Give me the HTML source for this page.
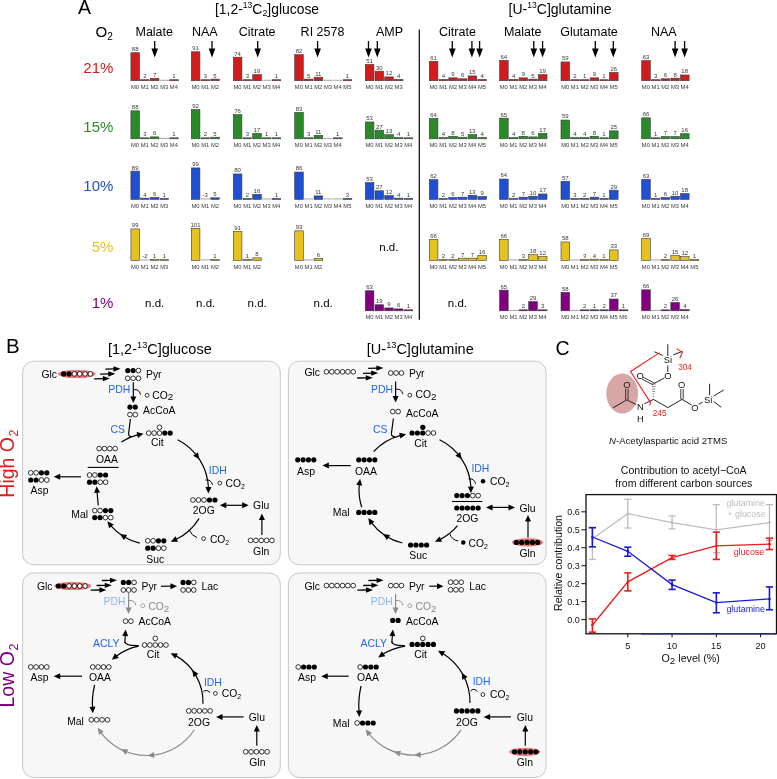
<!DOCTYPE html>
<html><head><meta charset="utf-8"><style>
html,body{margin:0;padding:0;background:#fff;}
svg{display:block;will-change:transform;}
text{font-family:"Liberation Sans",sans-serif;}
</style></head><body>
<svg width="777" height="779" viewBox="0 0 777 779" font-family="Liberation Sans, sans-serif">

<rect width="777" height="779" fill="#fff"/>
<text x="77.90" y="14.30" font-size="19.50" fill="#000" >A</text>
<text x="215" y="13.7" font-size="13.9" fill="#000">[1,2-<tspan dy="-5.6" font-size="8.6">13</tspan><tspan dy="5.6">C</tspan><tspan dy="2.4" font-size="8.8">2</tspan><tspan dy="-2.4">]glucose</tspan></text>
<text x="508.6" y="13.7" font-size="14" fill="#000">[U-<tspan dy="-5.6" font-size="8.6">13</tspan><tspan dy="5.6">C]glutamine</tspan></text>
<text x="95.5" y="37" font-size="15" fill="#000">O<tspan dy="3" font-size="10">2</tspan></text>
<text x="135.48" y="35.70" font-size="12.50" fill="#000" >Malate</text>
<text x="191.91" y="35.70" font-size="12.50" fill="#000" >NAA</text>
<text x="238.76" y="35.70" font-size="12.50" fill="#000" >Citrate</text>
<text x="300.62" y="35.70" font-size="12.50" fill="#000" >RI 2578</text>
<text x="376.03" y="35.70" font-size="12.50" fill="#000" >AMP</text>
<text x="439.06" y="35.70" font-size="12.50" fill="#000" >Citrate</text>
<text x="503.93" y="35.70" font-size="12.50" fill="#000" >Malate</text>
<text x="560.16" y="35.70" font-size="12.50" fill="#000" >Glutamate</text>
<text x="650.96" y="35.70" font-size="12.50" fill="#000" >NAA</text>
<text x="83.32" y="72.90" font-size="15.00" fill="#d01c1c" >21%</text>
<text x="83.32" y="131.80" font-size="15.00" fill="#2a8a2a" >15%</text>
<text x="83.32" y="190.90" font-size="15.00" fill="#1f50d2" >10%</text>
<text x="91.65" y="251.80" font-size="15.00" fill="#e6c21e" >5%</text>
<text x="91.65" y="307.70" font-size="15.00" fill="#800080" >1%</text>
<line x1="419.3" y1="29.5" x2="419.3" y2="319.8" stroke="#000" stroke-width="1.2"/>
<rect x="130.90" y="52.72" width="8.60" height="27.98" fill="#d01c1c" stroke="#3a3a3a" stroke-width="0.6"/>
<text x="131.85" y="51.12" font-size="6.00" fill="#383838" >88</text>
<text x="131.04" y="89.20" font-size="5.80" fill="#3a3a3a" >M0</text>
<rect x="140.60" y="79.70" width="8.60" height="1.00" fill="#d01c1c" stroke="#3a3a3a" stroke-width="0.6"/>
<text x="143.23" y="78.10" font-size="6.00" fill="#383838" >2</text>
<text x="140.77" y="89.20" font-size="5.80" fill="#3a3a3a" >M1</text>
<rect x="150.30" y="78.47" width="8.60" height="2.23" fill="#d01c1c" stroke="#3a3a3a" stroke-width="0.6"/>
<text x="152.94" y="76.87" font-size="6.00" fill="#383838" >7</text>
<text x="150.48" y="89.20" font-size="5.80" fill="#3a3a3a" >M2</text>
<rect x="159.70" y="79.80" width="9.20" height="0.9" fill="#9a9a9a"/>
<text x="160.15" y="89.20" font-size="5.80" fill="#3a3a3a" >M3</text>
<rect x="169.70" y="79.70" width="8.60" height="1.00" fill="#d01c1c" stroke="#3a3a3a" stroke-width="0.6"/>
<text x="172.24" y="78.10" font-size="6.00" fill="#383838" >1</text>
<text x="169.82" y="89.20" font-size="5.80" fill="#3a3a3a" >M4</text>
<rect x="130.90" y="110.82" width="8.60" height="27.98" fill="#2a8a2a" stroke="#3a3a3a" stroke-width="0.6"/>
<text x="131.85" y="109.22" font-size="6.00" fill="#383838" >88</text>
<text x="131.04" y="147.30" font-size="5.80" fill="#3a3a3a" >M0</text>
<rect x="140.60" y="137.80" width="8.60" height="1.00" fill="#2a8a2a" stroke="#3a3a3a" stroke-width="0.6"/>
<text x="143.23" y="136.20" font-size="6.00" fill="#383838" >3</text>
<text x="140.77" y="147.30" font-size="5.80" fill="#3a3a3a" >M1</text>
<rect x="150.30" y="136.89" width="8.60" height="1.91" fill="#2a8a2a" stroke="#3a3a3a" stroke-width="0.6"/>
<text x="152.91" y="135.29" font-size="6.00" fill="#383838" >6</text>
<text x="150.48" y="147.30" font-size="5.80" fill="#3a3a3a" >M2</text>
<rect x="159.70" y="137.90" width="9.20" height="0.9" fill="#9a9a9a"/>
<text x="160.15" y="147.30" font-size="5.80" fill="#3a3a3a" >M3</text>
<rect x="169.70" y="137.80" width="8.60" height="1.00" fill="#2a8a2a" stroke="#3a3a3a" stroke-width="0.6"/>
<text x="172.24" y="136.20" font-size="6.00" fill="#383838" >1</text>
<text x="169.82" y="147.30" font-size="5.80" fill="#3a3a3a" >M4</text>
<rect x="130.90" y="171.10" width="8.60" height="28.30" fill="#1f50d2" stroke="#3a3a3a" stroke-width="0.6"/>
<text x="131.87" y="169.50" font-size="6.00" fill="#383838" >89</text>
<text x="131.04" y="207.90" font-size="5.80" fill="#3a3a3a" >M0</text>
<rect x="140.60" y="198.13" width="8.60" height="1.27" fill="#1f50d2" stroke="#3a3a3a" stroke-width="0.6"/>
<text x="143.26" y="196.53" font-size="6.00" fill="#383838" >4</text>
<text x="140.77" y="207.90" font-size="5.80" fill="#3a3a3a" >M1</text>
<rect x="150.30" y="197.49" width="8.60" height="1.91" fill="#1f50d2" stroke="#3a3a3a" stroke-width="0.6"/>
<text x="152.91" y="195.89" font-size="6.00" fill="#383838" >6</text>
<text x="150.48" y="207.90" font-size="5.80" fill="#3a3a3a" >M2</text>
<rect x="160.00" y="198.40" width="8.60" height="1.00" fill="#1f50d2" stroke="#3a3a3a" stroke-width="0.6"/>
<text x="162.54" y="196.80" font-size="6.00" fill="#383838" >1</text>
<text x="160.15" y="207.90" font-size="5.80" fill="#3a3a3a" >M3</text>
<rect x="130.90" y="228.92" width="8.60" height="31.48" fill="#e6c21e" stroke="#3a3a3a" stroke-width="0.6"/>
<text x="131.87" y="227.32" font-size="6.00" fill="#383838" >99</text>
<text x="131.04" y="268.90" font-size="5.80" fill="#3a3a3a" >M0</text>
<rect x="140.30" y="259.50" width="9.20" height="0.9" fill="#9a9a9a"/>
<text x="142.24" y="257.80" font-size="6.00" fill="#383838" >-2</text>
<text x="140.77" y="268.90" font-size="5.80" fill="#3a3a3a" >M1</text>
<rect x="150.30" y="259.40" width="8.60" height="1.00" fill="#e6c21e" stroke="#3a3a3a" stroke-width="0.6"/>
<text x="152.84" y="257.80" font-size="6.00" fill="#383838" >1</text>
<text x="150.48" y="268.90" font-size="5.80" fill="#3a3a3a" >M2</text>
<rect x="160.00" y="259.40" width="8.60" height="1.00" fill="#e6c21e" stroke="#3a3a3a" stroke-width="0.6"/>
<text x="162.54" y="257.80" font-size="6.00" fill="#383838" >1</text>
<text x="160.15" y="268.90" font-size="5.80" fill="#3a3a3a" >M3</text>
<rect x="191.30" y="51.76" width="8.60" height="28.94" fill="#d01c1c" stroke="#3a3a3a" stroke-width="0.6"/>
<text x="192.27" y="50.16" font-size="6.00" fill="#383838" >91</text>
<text x="191.44" y="89.20" font-size="5.80" fill="#3a3a3a" >M0</text>
<rect x="201.00" y="79.70" width="8.60" height="1.00" fill="#d01c1c" stroke="#3a3a3a" stroke-width="0.6"/>
<text x="203.63" y="78.10" font-size="6.00" fill="#383838" >3</text>
<text x="201.17" y="89.20" font-size="5.80" fill="#3a3a3a" >M1</text>
<rect x="210.70" y="79.11" width="8.60" height="1.59" fill="#d01c1c" stroke="#3a3a3a" stroke-width="0.6"/>
<text x="213.34" y="77.51" font-size="6.00" fill="#383838" >5</text>
<text x="210.88" y="89.20" font-size="5.80" fill="#3a3a3a" >M2</text>
<rect x="191.30" y="109.54" width="8.60" height="29.26" fill="#2a8a2a" stroke="#3a3a3a" stroke-width="0.6"/>
<text x="192.28" y="107.94" font-size="6.00" fill="#383838" >92</text>
<text x="191.44" y="147.30" font-size="5.80" fill="#3a3a3a" >M0</text>
<rect x="201.00" y="137.80" width="8.60" height="1.00" fill="#2a8a2a" stroke="#3a3a3a" stroke-width="0.6"/>
<text x="203.63" y="136.20" font-size="6.00" fill="#383838" >2</text>
<text x="201.17" y="147.30" font-size="5.80" fill="#3a3a3a" >M1</text>
<rect x="210.70" y="137.21" width="8.60" height="1.59" fill="#2a8a2a" stroke="#3a3a3a" stroke-width="0.6"/>
<text x="213.34" y="135.61" font-size="6.00" fill="#383838" >5</text>
<text x="210.88" y="147.30" font-size="5.80" fill="#3a3a3a" >M2</text>
<rect x="191.30" y="167.92" width="8.60" height="31.48" fill="#1f50d2" stroke="#3a3a3a" stroke-width="0.6"/>
<text x="192.27" y="166.32" font-size="6.00" fill="#383838" >99</text>
<text x="191.44" y="207.90" font-size="5.80" fill="#3a3a3a" >M0</text>
<rect x="200.70" y="198.50" width="9.20" height="0.9" fill="#9a9a9a"/>
<text x="202.61" y="196.80" font-size="6.00" fill="#383838" >-3</text>
<text x="201.17" y="207.90" font-size="5.80" fill="#3a3a3a" >M1</text>
<rect x="210.70" y="197.81" width="8.60" height="1.59" fill="#1f50d2" stroke="#3a3a3a" stroke-width="0.6"/>
<text x="213.34" y="196.21" font-size="6.00" fill="#383838" >5</text>
<text x="210.88" y="207.90" font-size="5.80" fill="#3a3a3a" >M2</text>
<rect x="191.30" y="228.28" width="8.60" height="32.12" fill="#e6c21e" stroke="#3a3a3a" stroke-width="0.6"/>
<text x="190.51" y="226.68" font-size="6.00" fill="#383838" >101</text>
<text x="191.44" y="268.90" font-size="5.80" fill="#3a3a3a" >M0</text>
<rect x="200.70" y="259.50" width="9.20" height="0.9" fill="#9a9a9a"/>
<text x="201.17" y="268.90" font-size="5.80" fill="#3a3a3a" >M1</text>
<rect x="210.70" y="259.40" width="8.60" height="1.00" fill="#e6c21e" stroke="#3a3a3a" stroke-width="0.6"/>
<text x="213.25" y="257.80" font-size="6.00" fill="#383838" >1</text>
<text x="210.88" y="268.90" font-size="5.80" fill="#3a3a3a" >M2</text>
<rect x="233.30" y="57.17" width="8.60" height="23.53" fill="#d01c1c" stroke="#3a3a3a" stroke-width="0.6"/>
<text x="234.21" y="55.57" font-size="6.00" fill="#383838" >74</text>
<text x="233.44" y="89.20" font-size="5.80" fill="#3a3a3a" >M0</text>
<rect x="243.00" y="79.70" width="8.60" height="1.00" fill="#d01c1c" stroke="#3a3a3a" stroke-width="0.6"/>
<text x="245.63" y="78.10" font-size="6.00" fill="#383838" >3</text>
<text x="243.17" y="89.20" font-size="5.80" fill="#3a3a3a" >M1</text>
<rect x="252.70" y="74.66" width="8.60" height="6.04" fill="#d01c1c" stroke="#3a3a3a" stroke-width="0.6"/>
<text x="253.58" y="73.06" font-size="6.00" fill="#383838" >19</text>
<text x="252.88" y="89.20" font-size="5.80" fill="#3a3a3a" >M2</text>
<rect x="262.10" y="79.80" width="9.20" height="0.9" fill="#9a9a9a"/>
<text x="262.55" y="89.20" font-size="5.80" fill="#3a3a3a" >M3</text>
<rect x="272.10" y="79.70" width="8.60" height="1.00" fill="#d01c1c" stroke="#3a3a3a" stroke-width="0.6"/>
<text x="274.65" y="78.10" font-size="6.00" fill="#383838" >1</text>
<text x="272.22" y="89.20" font-size="5.80" fill="#3a3a3a" >M4</text>
<rect x="233.30" y="114.63" width="8.60" height="24.17" fill="#2a8a2a" stroke="#3a3a3a" stroke-width="0.6"/>
<text x="234.24" y="113.03" font-size="6.00" fill="#383838" >76</text>
<text x="233.44" y="147.30" font-size="5.80" fill="#3a3a3a" >M0</text>
<rect x="243.00" y="137.80" width="8.60" height="1.00" fill="#2a8a2a" stroke="#3a3a3a" stroke-width="0.6"/>
<text x="245.63" y="136.20" font-size="6.00" fill="#383838" >3</text>
<text x="243.17" y="147.30" font-size="5.80" fill="#3a3a3a" >M1</text>
<rect x="252.70" y="133.39" width="8.60" height="5.41" fill="#2a8a2a" stroke="#3a3a3a" stroke-width="0.6"/>
<text x="253.59" y="131.79" font-size="6.00" fill="#383838" >17</text>
<text x="252.88" y="147.30" font-size="5.80" fill="#3a3a3a" >M2</text>
<rect x="262.40" y="137.80" width="8.60" height="1.00" fill="#2a8a2a" stroke="#3a3a3a" stroke-width="0.6"/>
<text x="264.95" y="136.20" font-size="6.00" fill="#383838" >1</text>
<text x="262.55" y="147.30" font-size="5.80" fill="#3a3a3a" >M3</text>
<rect x="272.10" y="137.80" width="8.60" height="1.00" fill="#2a8a2a" stroke="#3a3a3a" stroke-width="0.6"/>
<text x="274.65" y="136.20" font-size="6.00" fill="#383838" >1</text>
<text x="272.22" y="147.30" font-size="5.80" fill="#3a3a3a" >M4</text>
<rect x="233.30" y="173.96" width="8.60" height="25.44" fill="#1f50d2" stroke="#3a3a3a" stroke-width="0.6"/>
<text x="234.24" y="172.36" font-size="6.00" fill="#383838" >80</text>
<text x="233.44" y="207.90" font-size="5.80" fill="#3a3a3a" >M0</text>
<rect x="243.00" y="198.40" width="8.60" height="1.00" fill="#1f50d2" stroke="#3a3a3a" stroke-width="0.6"/>
<text x="245.63" y="196.80" font-size="6.00" fill="#383838" >2</text>
<text x="243.17" y="207.90" font-size="5.80" fill="#3a3a3a" >M1</text>
<rect x="252.70" y="194.31" width="8.60" height="5.09" fill="#1f50d2" stroke="#3a3a3a" stroke-width="0.6"/>
<text x="253.56" y="192.71" font-size="6.00" fill="#383838" >16</text>
<text x="252.88" y="207.90" font-size="5.80" fill="#3a3a3a" >M2</text>
<rect x="262.10" y="198.50" width="9.20" height="0.9" fill="#9a9a9a"/>
<text x="262.55" y="207.90" font-size="5.80" fill="#3a3a3a" >M3</text>
<rect x="272.10" y="198.40" width="8.60" height="1.00" fill="#1f50d2" stroke="#3a3a3a" stroke-width="0.6"/>
<text x="274.65" y="196.80" font-size="6.00" fill="#383838" >1</text>
<text x="272.22" y="207.90" font-size="5.80" fill="#3a3a3a" >M4</text>
<rect x="233.30" y="231.46" width="8.60" height="28.94" fill="#e6c21e" stroke="#3a3a3a" stroke-width="0.6"/>
<text x="234.27" y="229.86" font-size="6.00" fill="#383838" >91</text>
<text x="233.44" y="268.90" font-size="5.80" fill="#3a3a3a" >M0</text>
<rect x="243.00" y="259.40" width="8.60" height="1.00" fill="#e6c21e" stroke="#3a3a3a" stroke-width="0.6"/>
<text x="245.54" y="257.80" font-size="6.00" fill="#383838" >1</text>
<text x="243.17" y="268.90" font-size="5.80" fill="#3a3a3a" >M1</text>
<rect x="252.70" y="257.86" width="8.60" height="2.54" fill="#e6c21e" stroke="#3a3a3a" stroke-width="0.6"/>
<text x="255.32" y="256.26" font-size="6.00" fill="#383838" >8</text>
<text x="252.88" y="268.90" font-size="5.80" fill="#3a3a3a" >M2</text>
<rect x="294.70" y="54.62" width="8.60" height="26.08" fill="#d01c1c" stroke="#3a3a3a" stroke-width="0.6"/>
<text x="295.69" y="53.02" font-size="6.00" fill="#383838" >82</text>
<text x="294.84" y="89.20" font-size="5.80" fill="#3a3a3a" >M0</text>
<rect x="304.40" y="79.11" width="8.60" height="1.59" fill="#d01c1c" stroke="#3a3a3a" stroke-width="0.6"/>
<text x="307.03" y="77.51" font-size="6.00" fill="#383838" >5</text>
<text x="304.57" y="89.20" font-size="5.80" fill="#3a3a3a" >M1</text>
<rect x="314.10" y="77.20" width="8.60" height="3.50" fill="#d01c1c" stroke="#3a3a3a" stroke-width="0.6"/>
<text x="315.20" y="75.60" font-size="6.00" fill="#383838" >11</text>
<text x="314.28" y="89.20" font-size="5.80" fill="#3a3a3a" >M2</text>
<rect x="323.50" y="79.80" width="9.20" height="0.9" fill="#9a9a9a"/>
<text x="323.95" y="89.20" font-size="5.80" fill="#3a3a3a" >M3</text>
<rect x="333.20" y="79.80" width="9.20" height="0.9" fill="#9a9a9a"/>
<text x="333.62" y="89.20" font-size="5.80" fill="#3a3a3a" >M4</text>
<rect x="343.20" y="79.70" width="8.60" height="1.00" fill="#d01c1c" stroke="#3a3a3a" stroke-width="0.6"/>
<text x="345.75" y="78.10" font-size="6.00" fill="#383838" >1</text>
<text x="343.35" y="89.20" font-size="5.80" fill="#3a3a3a" >M5</text>
<rect x="294.70" y="112.41" width="8.60" height="26.39" fill="#2a8a2a" stroke="#3a3a3a" stroke-width="0.6"/>
<text x="295.65" y="110.81" font-size="6.00" fill="#383838" >83</text>
<text x="294.84" y="147.30" font-size="5.80" fill="#3a3a3a" >M0</text>
<rect x="304.40" y="137.80" width="8.60" height="1.00" fill="#2a8a2a" stroke="#3a3a3a" stroke-width="0.6"/>
<text x="307.03" y="136.20" font-size="6.00" fill="#383838" >3</text>
<text x="304.57" y="147.30" font-size="5.80" fill="#3a3a3a" >M1</text>
<rect x="314.10" y="135.30" width="8.60" height="3.50" fill="#2a8a2a" stroke="#3a3a3a" stroke-width="0.6"/>
<text x="315.20" y="133.70" font-size="6.00" fill="#383838" >11</text>
<text x="314.28" y="147.30" font-size="5.80" fill="#3a3a3a" >M2</text>
<rect x="323.50" y="137.90" width="9.20" height="0.9" fill="#9a9a9a"/>
<text x="323.95" y="147.30" font-size="5.80" fill="#3a3a3a" >M3</text>
<rect x="333.50" y="137.80" width="8.60" height="1.00" fill="#2a8a2a" stroke="#3a3a3a" stroke-width="0.6"/>
<text x="336.05" y="136.20" font-size="6.00" fill="#383838" >1</text>
<text x="333.62" y="147.30" font-size="5.80" fill="#3a3a3a" >M4</text>
<rect x="294.70" y="172.05" width="8.60" height="27.35" fill="#1f50d2" stroke="#3a3a3a" stroke-width="0.6"/>
<text x="295.65" y="170.45" font-size="6.00" fill="#383838" >86</text>
<text x="294.84" y="207.90" font-size="5.80" fill="#3a3a3a" >M0</text>
<rect x="304.10" y="198.50" width="9.20" height="0.9" fill="#9a9a9a"/>
<text x="304.57" y="207.90" font-size="5.80" fill="#3a3a3a" >M1</text>
<rect x="314.10" y="195.90" width="8.60" height="3.50" fill="#1f50d2" stroke="#3a3a3a" stroke-width="0.6"/>
<text x="315.20" y="194.30" font-size="6.00" fill="#383838" >11</text>
<text x="314.28" y="207.90" font-size="5.80" fill="#3a3a3a" >M2</text>
<rect x="323.50" y="198.50" width="9.20" height="0.9" fill="#9a9a9a"/>
<text x="323.95" y="207.90" font-size="5.80" fill="#3a3a3a" >M3</text>
<rect x="333.20" y="198.50" width="9.20" height="0.9" fill="#9a9a9a"/>
<text x="333.62" y="207.90" font-size="5.80" fill="#3a3a3a" >M4</text>
<rect x="343.20" y="198.40" width="8.60" height="1.00" fill="#1f50d2" stroke="#3a3a3a" stroke-width="0.6"/>
<text x="345.83" y="196.80" font-size="6.00" fill="#383838" >3</text>
<text x="343.35" y="207.90" font-size="5.80" fill="#3a3a3a" >M5</text>
<rect x="294.70" y="230.83" width="8.60" height="29.57" fill="#e6c21e" stroke="#3a3a3a" stroke-width="0.6"/>
<text x="295.65" y="229.23" font-size="6.00" fill="#383838" >93</text>
<text x="294.84" y="268.90" font-size="5.80" fill="#3a3a3a" >M0</text>
<rect x="304.10" y="259.50" width="9.20" height="0.9" fill="#9a9a9a"/>
<text x="304.57" y="268.90" font-size="5.80" fill="#3a3a3a" >M1</text>
<rect x="314.10" y="258.49" width="8.60" height="1.91" fill="#e6c21e" stroke="#3a3a3a" stroke-width="0.6"/>
<text x="316.70" y="256.89" font-size="6.00" fill="#383838" >6</text>
<text x="314.28" y="268.90" font-size="5.80" fill="#3a3a3a" >M2</text>
<rect x="365.30" y="64.48" width="8.60" height="16.22" fill="#d01c1c" stroke="#3a3a3a" stroke-width="0.6"/>
<text x="366.29" y="62.88" font-size="6.00" fill="#383838" >51</text>
<text x="365.44" y="89.20" font-size="5.80" fill="#3a3a3a" >M0</text>
<rect x="375.00" y="71.16" width="8.60" height="9.54" fill="#d01c1c" stroke="#3a3a3a" stroke-width="0.6"/>
<text x="375.95" y="69.56" font-size="6.00" fill="#383838" >30</text>
<text x="375.17" y="89.20" font-size="5.80" fill="#3a3a3a" >M1</text>
<rect x="384.70" y="76.88" width="8.60" height="3.82" fill="#d01c1c" stroke="#3a3a3a" stroke-width="0.6"/>
<text x="385.60" y="75.28" font-size="6.00" fill="#383838" >12</text>
<text x="384.88" y="89.20" font-size="5.80" fill="#3a3a3a" >M2</text>
<rect x="394.40" y="79.43" width="8.60" height="1.27" fill="#d01c1c" stroke="#3a3a3a" stroke-width="0.6"/>
<text x="397.07" y="77.83" font-size="6.00" fill="#383838" >4</text>
<text x="394.55" y="89.20" font-size="5.80" fill="#3a3a3a" >M3</text>
<rect x="365.30" y="121.95" width="8.60" height="16.85" fill="#2a8a2a" stroke="#3a3a3a" stroke-width="0.6"/>
<text x="366.27" y="120.35" font-size="6.00" fill="#383838" >53</text>
<text x="365.44" y="147.30" font-size="5.80" fill="#3a3a3a" >M0</text>
<rect x="375.00" y="130.21" width="8.60" height="8.59" fill="#2a8a2a" stroke="#3a3a3a" stroke-width="0.6"/>
<text x="375.97" y="128.61" font-size="6.00" fill="#383838" >27</text>
<text x="375.17" y="147.30" font-size="5.80" fill="#3a3a3a" >M1</text>
<rect x="384.70" y="134.67" width="8.60" height="4.13" fill="#2a8a2a" stroke="#3a3a3a" stroke-width="0.6"/>
<text x="385.56" y="133.07" font-size="6.00" fill="#383838" >13</text>
<text x="384.88" y="147.30" font-size="5.80" fill="#3a3a3a" >M2</text>
<rect x="394.40" y="137.53" width="8.60" height="1.27" fill="#2a8a2a" stroke="#3a3a3a" stroke-width="0.6"/>
<text x="397.07" y="135.93" font-size="6.00" fill="#383838" >4</text>
<text x="394.55" y="147.30" font-size="5.80" fill="#3a3a3a" >M3</text>
<rect x="404.10" y="137.80" width="8.60" height="1.00" fill="#2a8a2a" stroke="#3a3a3a" stroke-width="0.6"/>
<text x="406.65" y="136.20" font-size="6.00" fill="#383838" >1</text>
<text x="404.22" y="147.30" font-size="5.80" fill="#3a3a3a" >M4</text>
<rect x="365.30" y="182.55" width="8.60" height="16.85" fill="#1f50d2" stroke="#3a3a3a" stroke-width="0.6"/>
<text x="366.27" y="180.95" font-size="6.00" fill="#383838" >53</text>
<text x="365.44" y="207.90" font-size="5.80" fill="#3a3a3a" >M0</text>
<rect x="375.00" y="190.81" width="8.60" height="8.59" fill="#1f50d2" stroke="#3a3a3a" stroke-width="0.6"/>
<text x="375.97" y="189.21" font-size="6.00" fill="#383838" >27</text>
<text x="375.17" y="207.90" font-size="5.80" fill="#3a3a3a" >M1</text>
<rect x="384.70" y="195.58" width="8.60" height="3.82" fill="#1f50d2" stroke="#3a3a3a" stroke-width="0.6"/>
<text x="385.60" y="193.98" font-size="6.00" fill="#383838" >12</text>
<text x="384.88" y="207.90" font-size="5.80" fill="#3a3a3a" >M2</text>
<rect x="394.40" y="198.13" width="8.60" height="1.27" fill="#1f50d2" stroke="#3a3a3a" stroke-width="0.6"/>
<text x="397.07" y="196.53" font-size="6.00" fill="#383838" >4</text>
<text x="394.55" y="207.90" font-size="5.80" fill="#3a3a3a" >M3</text>
<rect x="404.10" y="198.40" width="8.60" height="1.00" fill="#1f50d2" stroke="#3a3a3a" stroke-width="0.6"/>
<text x="406.65" y="196.80" font-size="6.00" fill="#383838" >1</text>
<text x="404.22" y="207.90" font-size="5.80" fill="#3a3a3a" >M4</text>
<rect x="365.30" y="290.77" width="8.60" height="20.03" fill="#800080" stroke="#3a3a3a" stroke-width="0.6"/>
<text x="366.24" y="289.17" font-size="6.00" fill="#383838" >63</text>
<text x="365.44" y="319.30" font-size="5.80" fill="#3a3a3a" >M0</text>
<rect x="375.00" y="304.76" width="8.60" height="6.04" fill="#800080" stroke="#3a3a3a" stroke-width="0.6"/>
<text x="375.88" y="303.16" font-size="6.00" fill="#383838" >19</text>
<text x="375.17" y="319.30" font-size="5.80" fill="#3a3a3a" >M1</text>
<rect x="384.70" y="307.94" width="8.60" height="2.86" fill="#800080" stroke="#3a3a3a" stroke-width="0.6"/>
<text x="387.33" y="306.34" font-size="6.00" fill="#383838" >9</text>
<text x="384.88" y="319.30" font-size="5.80" fill="#3a3a3a" >M2</text>
<rect x="394.40" y="308.89" width="8.60" height="1.91" fill="#800080" stroke="#3a3a3a" stroke-width="0.6"/>
<text x="397.01" y="307.29" font-size="6.00" fill="#383838" >6</text>
<text x="394.55" y="319.30" font-size="5.80" fill="#3a3a3a" >M3</text>
<rect x="404.10" y="309.80" width="8.60" height="1.00" fill="#800080" stroke="#3a3a3a" stroke-width="0.6"/>
<text x="406.65" y="308.20" font-size="6.00" fill="#383838" >1</text>
<text x="404.22" y="319.30" font-size="5.80" fill="#3a3a3a" >M4</text>
<rect x="429.30" y="61.30" width="8.60" height="19.40" fill="#d01c1c" stroke="#3a3a3a" stroke-width="0.6"/>
<text x="430.25" y="59.70" font-size="6.00" fill="#383838" >61</text>
<text x="429.44" y="89.20" font-size="5.80" fill="#3a3a3a" >M0</text>
<rect x="439.00" y="79.43" width="8.60" height="1.27" fill="#d01c1c" stroke="#3a3a3a" stroke-width="0.6"/>
<text x="441.67" y="77.83" font-size="6.00" fill="#383838" >4</text>
<text x="439.17" y="89.20" font-size="5.80" fill="#3a3a3a" >M1</text>
<rect x="448.70" y="77.84" width="8.60" height="2.86" fill="#d01c1c" stroke="#3a3a3a" stroke-width="0.6"/>
<text x="451.33" y="76.24" font-size="6.00" fill="#383838" >9</text>
<text x="448.88" y="89.20" font-size="5.80" fill="#3a3a3a" >M2</text>
<rect x="458.40" y="78.79" width="8.60" height="1.91" fill="#d01c1c" stroke="#3a3a3a" stroke-width="0.6"/>
<text x="461.01" y="77.19" font-size="6.00" fill="#383838" >6</text>
<text x="458.55" y="89.20" font-size="5.80" fill="#3a3a3a" >M3</text>
<rect x="468.10" y="75.93" width="8.60" height="4.77" fill="#d01c1c" stroke="#3a3a3a" stroke-width="0.6"/>
<text x="468.97" y="74.33" font-size="6.00" fill="#383838" >15</text>
<text x="468.22" y="89.20" font-size="5.80" fill="#3a3a3a" >M4</text>
<rect x="477.80" y="79.43" width="8.60" height="1.27" fill="#d01c1c" stroke="#3a3a3a" stroke-width="0.6"/>
<text x="480.47" y="77.83" font-size="6.00" fill="#383838" >4</text>
<text x="477.95" y="89.20" font-size="5.80" fill="#3a3a3a" >M5</text>
<rect x="429.30" y="118.45" width="8.60" height="20.35" fill="#2a8a2a" stroke="#3a3a3a" stroke-width="0.6"/>
<text x="430.21" y="116.85" font-size="6.00" fill="#383838" >64</text>
<text x="429.44" y="147.30" font-size="5.80" fill="#3a3a3a" >M0</text>
<rect x="439.00" y="137.53" width="8.60" height="1.27" fill="#2a8a2a" stroke="#3a3a3a" stroke-width="0.6"/>
<text x="441.67" y="135.93" font-size="6.00" fill="#383838" >4</text>
<text x="439.17" y="147.30" font-size="5.80" fill="#3a3a3a" >M1</text>
<rect x="448.70" y="136.26" width="8.60" height="2.54" fill="#2a8a2a" stroke="#3a3a3a" stroke-width="0.6"/>
<text x="451.32" y="134.66" font-size="6.00" fill="#383838" >8</text>
<text x="448.88" y="147.30" font-size="5.80" fill="#3a3a3a" >M2</text>
<rect x="458.40" y="137.21" width="8.60" height="1.59" fill="#2a8a2a" stroke="#3a3a3a" stroke-width="0.6"/>
<text x="461.04" y="135.61" font-size="6.00" fill="#383838" >5</text>
<text x="458.55" y="147.30" font-size="5.80" fill="#3a3a3a" >M3</text>
<rect x="468.10" y="134.67" width="8.60" height="4.13" fill="#2a8a2a" stroke="#3a3a3a" stroke-width="0.6"/>
<text x="468.97" y="133.07" font-size="6.00" fill="#383838" >13</text>
<text x="468.22" y="147.30" font-size="5.80" fill="#3a3a3a" >M4</text>
<rect x="477.80" y="137.53" width="8.60" height="1.27" fill="#2a8a2a" stroke="#3a3a3a" stroke-width="0.6"/>
<text x="480.47" y="135.93" font-size="6.00" fill="#383838" >4</text>
<text x="477.95" y="147.30" font-size="5.80" fill="#3a3a3a" >M5</text>
<rect x="429.30" y="179.68" width="8.60" height="19.72" fill="#1f50d2" stroke="#3a3a3a" stroke-width="0.6"/>
<text x="430.27" y="178.08" font-size="6.00" fill="#383838" >62</text>
<text x="429.44" y="207.90" font-size="5.80" fill="#3a3a3a" >M0</text>
<rect x="439.00" y="198.40" width="8.60" height="1.00" fill="#1f50d2" stroke="#3a3a3a" stroke-width="0.6"/>
<text x="441.63" y="196.80" font-size="6.00" fill="#383838" >2</text>
<text x="439.17" y="207.90" font-size="5.80" fill="#3a3a3a" >M1</text>
<rect x="448.70" y="197.49" width="8.60" height="1.91" fill="#1f50d2" stroke="#3a3a3a" stroke-width="0.6"/>
<text x="451.31" y="195.89" font-size="6.00" fill="#383838" >6</text>
<text x="448.88" y="207.90" font-size="5.80" fill="#3a3a3a" >M2</text>
<rect x="458.40" y="197.17" width="8.60" height="2.23" fill="#1f50d2" stroke="#3a3a3a" stroke-width="0.6"/>
<text x="461.04" y="195.57" font-size="6.00" fill="#383838" >7</text>
<text x="458.55" y="207.90" font-size="5.80" fill="#3a3a3a" >M3</text>
<rect x="468.10" y="195.27" width="8.60" height="4.13" fill="#1f50d2" stroke="#3a3a3a" stroke-width="0.6"/>
<text x="468.97" y="193.67" font-size="6.00" fill="#383838" >13</text>
<text x="468.22" y="207.90" font-size="5.80" fill="#3a3a3a" >M4</text>
<rect x="477.80" y="196.54" width="8.60" height="2.86" fill="#1f50d2" stroke="#3a3a3a" stroke-width="0.6"/>
<text x="480.44" y="194.94" font-size="6.00" fill="#383838" >9</text>
<text x="477.95" y="207.90" font-size="5.80" fill="#3a3a3a" >M5</text>
<rect x="429.30" y="239.41" width="8.60" height="20.99" fill="#e6c21e" stroke="#3a3a3a" stroke-width="0.6"/>
<text x="430.24" y="237.81" font-size="6.00" fill="#383838" >66</text>
<text x="429.44" y="268.90" font-size="5.80" fill="#3a3a3a" >M0</text>
<rect x="439.00" y="259.40" width="8.60" height="1.00" fill="#e6c21e" stroke="#3a3a3a" stroke-width="0.6"/>
<text x="441.63" y="257.80" font-size="6.00" fill="#383838" >2</text>
<text x="439.17" y="268.90" font-size="5.80" fill="#3a3a3a" >M1</text>
<rect x="448.70" y="259.40" width="8.60" height="1.00" fill="#e6c21e" stroke="#3a3a3a" stroke-width="0.6"/>
<text x="451.33" y="257.80" font-size="6.00" fill="#383838" >2</text>
<text x="448.88" y="268.90" font-size="5.80" fill="#3a3a3a" >M2</text>
<rect x="458.40" y="258.17" width="8.60" height="2.23" fill="#e6c21e" stroke="#3a3a3a" stroke-width="0.6"/>
<text x="461.04" y="256.57" font-size="6.00" fill="#383838" >7</text>
<text x="458.55" y="268.90" font-size="5.80" fill="#3a3a3a" >M3</text>
<rect x="468.10" y="258.17" width="8.60" height="2.23" fill="#e6c21e" stroke="#3a3a3a" stroke-width="0.6"/>
<text x="470.74" y="256.57" font-size="6.00" fill="#383838" >7</text>
<text x="468.22" y="268.90" font-size="5.80" fill="#3a3a3a" >M4</text>
<rect x="477.80" y="255.31" width="8.60" height="5.09" fill="#e6c21e" stroke="#3a3a3a" stroke-width="0.6"/>
<text x="478.67" y="253.71" font-size="6.00" fill="#383838" >16</text>
<text x="477.95" y="268.90" font-size="5.80" fill="#3a3a3a" >M5</text>
<rect x="499.60" y="60.35" width="8.60" height="20.35" fill="#d01c1c" stroke="#3a3a3a" stroke-width="0.6"/>
<text x="500.51" y="58.75" font-size="6.00" fill="#383838" >64</text>
<text x="499.74" y="89.20" font-size="5.80" fill="#3a3a3a" >M0</text>
<rect x="509.30" y="79.43" width="8.60" height="1.27" fill="#d01c1c" stroke="#3a3a3a" stroke-width="0.6"/>
<text x="511.97" y="77.83" font-size="6.00" fill="#383838" >4</text>
<text x="509.47" y="89.20" font-size="5.80" fill="#3a3a3a" >M1</text>
<rect x="519.00" y="77.84" width="8.60" height="2.86" fill="#d01c1c" stroke="#3a3a3a" stroke-width="0.6"/>
<text x="521.64" y="76.24" font-size="6.00" fill="#383838" >9</text>
<text x="519.18" y="89.20" font-size="5.80" fill="#3a3a3a" >M2</text>
<rect x="528.70" y="79.11" width="8.60" height="1.59" fill="#d01c1c" stroke="#3a3a3a" stroke-width="0.6"/>
<text x="531.34" y="77.51" font-size="6.00" fill="#383838" >5</text>
<text x="528.85" y="89.20" font-size="5.80" fill="#3a3a3a" >M3</text>
<rect x="538.40" y="74.66" width="8.60" height="6.04" fill="#d01c1c" stroke="#3a3a3a" stroke-width="0.6"/>
<text x="539.28" y="73.06" font-size="6.00" fill="#383838" >19</text>
<text x="538.52" y="89.20" font-size="5.80" fill="#3a3a3a" >M4</text>
<rect x="499.60" y="118.13" width="8.60" height="20.67" fill="#2a8a2a" stroke="#3a3a3a" stroke-width="0.6"/>
<text x="500.54" y="116.53" font-size="6.00" fill="#383838" >65</text>
<text x="499.74" y="147.30" font-size="5.80" fill="#3a3a3a" >M0</text>
<rect x="509.30" y="137.53" width="8.60" height="1.27" fill="#2a8a2a" stroke="#3a3a3a" stroke-width="0.6"/>
<text x="511.97" y="135.93" font-size="6.00" fill="#383838" >4</text>
<text x="509.47" y="147.30" font-size="5.80" fill="#3a3a3a" >M1</text>
<rect x="519.00" y="136.26" width="8.60" height="2.54" fill="#2a8a2a" stroke="#3a3a3a" stroke-width="0.6"/>
<text x="521.62" y="134.66" font-size="6.00" fill="#383838" >8</text>
<text x="519.18" y="147.30" font-size="5.80" fill="#3a3a3a" >M2</text>
<rect x="528.70" y="136.89" width="8.60" height="1.91" fill="#2a8a2a" stroke="#3a3a3a" stroke-width="0.6"/>
<text x="531.30" y="135.29" font-size="6.00" fill="#383838" >6</text>
<text x="528.85" y="147.30" font-size="5.80" fill="#3a3a3a" >M3</text>
<rect x="538.40" y="133.39" width="8.60" height="5.41" fill="#2a8a2a" stroke="#3a3a3a" stroke-width="0.6"/>
<text x="539.30" y="131.79" font-size="6.00" fill="#383838" >17</text>
<text x="538.52" y="147.30" font-size="5.80" fill="#3a3a3a" >M4</text>
<rect x="499.60" y="179.05" width="8.60" height="20.35" fill="#1f50d2" stroke="#3a3a3a" stroke-width="0.6"/>
<text x="500.51" y="177.45" font-size="6.00" fill="#383838" >64</text>
<text x="499.74" y="207.90" font-size="5.80" fill="#3a3a3a" >M0</text>
<rect x="509.30" y="198.40" width="8.60" height="1.00" fill="#1f50d2" stroke="#3a3a3a" stroke-width="0.6"/>
<text x="511.94" y="196.80" font-size="6.00" fill="#383838" >2</text>
<text x="509.47" y="207.90" font-size="5.80" fill="#3a3a3a" >M1</text>
<rect x="519.00" y="197.17" width="8.60" height="2.23" fill="#1f50d2" stroke="#3a3a3a" stroke-width="0.6"/>
<text x="521.64" y="195.57" font-size="6.00" fill="#383838" >7</text>
<text x="519.18" y="207.90" font-size="5.80" fill="#3a3a3a" >M2</text>
<rect x="528.70" y="196.22" width="8.60" height="3.18" fill="#1f50d2" stroke="#3a3a3a" stroke-width="0.6"/>
<text x="529.55" y="194.62" font-size="6.00" fill="#383838" >10</text>
<text x="528.85" y="207.90" font-size="5.80" fill="#3a3a3a" >M3</text>
<rect x="538.40" y="193.99" width="8.60" height="5.41" fill="#1f50d2" stroke="#3a3a3a" stroke-width="0.6"/>
<text x="539.30" y="192.39" font-size="6.00" fill="#383838" >17</text>
<text x="538.52" y="207.90" font-size="5.80" fill="#3a3a3a" >M4</text>
<rect x="499.60" y="239.41" width="8.60" height="20.99" fill="#e6c21e" stroke="#3a3a3a" stroke-width="0.6"/>
<text x="500.54" y="237.81" font-size="6.00" fill="#383838" >66</text>
<text x="499.74" y="268.90" font-size="5.80" fill="#3a3a3a" >M0</text>
<rect x="509.00" y="259.50" width="9.20" height="0.9" fill="#9a9a9a"/>
<text x="509.47" y="268.90" font-size="5.80" fill="#3a3a3a" >M1</text>
<rect x="519.00" y="259.40" width="8.60" height="1.00" fill="#e6c21e" stroke="#3a3a3a" stroke-width="0.6"/>
<text x="521.64" y="257.80" font-size="6.00" fill="#383838" >3</text>
<text x="519.18" y="268.90" font-size="5.80" fill="#3a3a3a" >M2</text>
<rect x="528.70" y="254.68" width="8.60" height="5.72" fill="#e6c21e" stroke="#3a3a3a" stroke-width="0.6"/>
<text x="529.57" y="253.08" font-size="6.00" fill="#383838" >18</text>
<text x="528.85" y="268.90" font-size="5.80" fill="#3a3a3a" >M3</text>
<rect x="538.40" y="256.58" width="8.60" height="3.82" fill="#e6c21e" stroke="#3a3a3a" stroke-width="0.6"/>
<text x="539.30" y="254.98" font-size="6.00" fill="#383838" >12</text>
<text x="538.52" y="268.90" font-size="5.80" fill="#3a3a3a" >M4</text>
<rect x="499.60" y="290.13" width="8.60" height="20.67" fill="#800080" stroke="#3a3a3a" stroke-width="0.6"/>
<text x="500.54" y="288.53" font-size="6.00" fill="#383838" >65</text>
<text x="499.74" y="319.30" font-size="5.80" fill="#3a3a3a" >M0</text>
<rect x="509.00" y="309.90" width="9.20" height="0.9" fill="#9a9a9a"/>
<text x="509.47" y="319.30" font-size="5.80" fill="#3a3a3a" >M1</text>
<rect x="519.00" y="309.80" width="8.60" height="1.00" fill="#800080" stroke="#3a3a3a" stroke-width="0.6"/>
<text x="521.64" y="308.20" font-size="6.00" fill="#383838" >2</text>
<text x="519.18" y="319.30" font-size="5.80" fill="#3a3a3a" >M2</text>
<rect x="528.70" y="301.58" width="8.60" height="9.22" fill="#800080" stroke="#3a3a3a" stroke-width="0.6"/>
<text x="529.65" y="299.98" font-size="6.00" fill="#383838" >29</text>
<text x="528.85" y="319.30" font-size="5.80" fill="#3a3a3a" >M3</text>
<rect x="538.40" y="309.80" width="8.60" height="1.00" fill="#800080" stroke="#3a3a3a" stroke-width="0.6"/>
<text x="541.04" y="308.20" font-size="6.00" fill="#383838" >3</text>
<text x="538.52" y="319.30" font-size="5.80" fill="#3a3a3a" >M4</text>
<rect x="561.00" y="61.94" width="8.60" height="18.76" fill="#d01c1c" stroke="#3a3a3a" stroke-width="0.6"/>
<text x="561.99" y="60.34" font-size="6.00" fill="#383838" >59</text>
<text x="561.14" y="89.20" font-size="5.80" fill="#3a3a3a" >M0</text>
<rect x="570.70" y="79.70" width="8.60" height="1.00" fill="#d01c1c" stroke="#3a3a3a" stroke-width="0.6"/>
<text x="573.34" y="78.10" font-size="6.00" fill="#383838" >2</text>
<text x="570.87" y="89.20" font-size="5.80" fill="#3a3a3a" >M1</text>
<rect x="580.40" y="79.70" width="8.60" height="1.00" fill="#d01c1c" stroke="#3a3a3a" stroke-width="0.6"/>
<text x="582.95" y="78.10" font-size="6.00" fill="#383838" >1</text>
<text x="580.58" y="89.20" font-size="5.80" fill="#3a3a3a" >M2</text>
<rect x="590.10" y="77.84" width="8.60" height="2.86" fill="#d01c1c" stroke="#3a3a3a" stroke-width="0.6"/>
<text x="592.74" y="76.24" font-size="6.00" fill="#383838" >9</text>
<text x="590.25" y="89.20" font-size="5.80" fill="#3a3a3a" >M3</text>
<rect x="599.80" y="79.70" width="8.60" height="1.00" fill="#d01c1c" stroke="#3a3a3a" stroke-width="0.6"/>
<text x="602.35" y="78.10" font-size="6.00" fill="#383838" >1</text>
<text x="599.92" y="89.20" font-size="5.80" fill="#3a3a3a" >M4</text>
<rect x="609.50" y="72.43" width="8.60" height="8.27" fill="#d01c1c" stroke="#3a3a3a" stroke-width="0.6"/>
<text x="610.44" y="70.83" font-size="6.00" fill="#383838" >26</text>
<text x="609.65" y="89.20" font-size="5.80" fill="#3a3a3a" >M5</text>
<rect x="561.00" y="120.04" width="8.60" height="18.76" fill="#2a8a2a" stroke="#3a3a3a" stroke-width="0.6"/>
<text x="561.99" y="118.44" font-size="6.00" fill="#383838" >59</text>
<text x="561.14" y="147.30" font-size="5.80" fill="#3a3a3a" >M0</text>
<rect x="570.70" y="137.53" width="8.60" height="1.27" fill="#2a8a2a" stroke="#3a3a3a" stroke-width="0.6"/>
<text x="573.37" y="135.93" font-size="6.00" fill="#383838" >4</text>
<text x="570.87" y="147.30" font-size="5.80" fill="#3a3a3a" >M1</text>
<rect x="580.40" y="137.53" width="8.60" height="1.27" fill="#2a8a2a" stroke="#3a3a3a" stroke-width="0.6"/>
<text x="583.07" y="135.93" font-size="6.00" fill="#383838" >4</text>
<text x="580.58" y="147.30" font-size="5.80" fill="#3a3a3a" >M2</text>
<rect x="590.10" y="136.26" width="8.60" height="2.54" fill="#2a8a2a" stroke="#3a3a3a" stroke-width="0.6"/>
<text x="592.72" y="134.66" font-size="6.00" fill="#383838" >8</text>
<text x="590.25" y="147.30" font-size="5.80" fill="#3a3a3a" >M3</text>
<rect x="599.80" y="137.80" width="8.60" height="1.00" fill="#2a8a2a" stroke="#3a3a3a" stroke-width="0.6"/>
<text x="602.35" y="136.20" font-size="6.00" fill="#383838" >1</text>
<text x="599.92" y="147.30" font-size="5.80" fill="#3a3a3a" >M4</text>
<rect x="609.50" y="130.85" width="8.60" height="7.95" fill="#2a8a2a" stroke="#3a3a3a" stroke-width="0.6"/>
<text x="610.44" y="129.25" font-size="6.00" fill="#383838" >25</text>
<text x="609.65" y="147.30" font-size="5.80" fill="#3a3a3a" >M5</text>
<rect x="561.00" y="181.27" width="8.60" height="18.13" fill="#1f50d2" stroke="#3a3a3a" stroke-width="0.6"/>
<text x="562.00" y="179.67" font-size="6.00" fill="#383838" >57</text>
<text x="561.14" y="207.90" font-size="5.80" fill="#3a3a3a" >M0</text>
<rect x="570.70" y="198.40" width="8.60" height="1.00" fill="#1f50d2" stroke="#3a3a3a" stroke-width="0.6"/>
<text x="573.34" y="196.80" font-size="6.00" fill="#383838" >3</text>
<text x="570.87" y="207.90" font-size="5.80" fill="#3a3a3a" >M1</text>
<rect x="580.40" y="198.40" width="8.60" height="1.00" fill="#1f50d2" stroke="#3a3a3a" stroke-width="0.6"/>
<text x="583.04" y="196.80" font-size="6.00" fill="#383838" >2</text>
<text x="580.58" y="207.90" font-size="5.80" fill="#3a3a3a" >M2</text>
<rect x="590.10" y="197.17" width="8.60" height="2.23" fill="#1f50d2" stroke="#3a3a3a" stroke-width="0.6"/>
<text x="592.74" y="195.57" font-size="6.00" fill="#383838" >7</text>
<text x="590.25" y="207.90" font-size="5.80" fill="#3a3a3a" >M3</text>
<rect x="599.80" y="198.40" width="8.60" height="1.00" fill="#1f50d2" stroke="#3a3a3a" stroke-width="0.6"/>
<text x="602.35" y="196.80" font-size="6.00" fill="#383838" >1</text>
<text x="599.92" y="207.90" font-size="5.80" fill="#3a3a3a" >M4</text>
<rect x="609.50" y="190.18" width="8.60" height="9.22" fill="#1f50d2" stroke="#3a3a3a" stroke-width="0.6"/>
<text x="610.46" y="188.58" font-size="6.00" fill="#383838" >29</text>
<text x="609.65" y="207.90" font-size="5.80" fill="#3a3a3a" >M5</text>
<rect x="561.00" y="241.96" width="8.60" height="18.44" fill="#e6c21e" stroke="#3a3a3a" stroke-width="0.6"/>
<text x="561.97" y="240.36" font-size="6.00" fill="#383838" >58</text>
<text x="561.14" y="268.90" font-size="5.80" fill="#3a3a3a" >M0</text>
<rect x="570.40" y="259.50" width="9.20" height="0.9" fill="#9a9a9a"/>
<text x="570.87" y="268.90" font-size="5.80" fill="#3a3a3a" >M1</text>
<rect x="580.40" y="259.40" width="8.60" height="1.00" fill="#e6c21e" stroke="#3a3a3a" stroke-width="0.6"/>
<text x="583.04" y="257.80" font-size="6.00" fill="#383838" >3</text>
<text x="580.58" y="268.90" font-size="5.80" fill="#3a3a3a" >M2</text>
<rect x="590.10" y="259.13" width="8.60" height="1.27" fill="#e6c21e" stroke="#3a3a3a" stroke-width="0.6"/>
<text x="592.77" y="257.53" font-size="6.00" fill="#383838" >4</text>
<text x="590.25" y="268.90" font-size="5.80" fill="#3a3a3a" >M3</text>
<rect x="599.80" y="259.40" width="8.60" height="1.00" fill="#e6c21e" stroke="#3a3a3a" stroke-width="0.6"/>
<text x="602.35" y="257.80" font-size="6.00" fill="#383838" >1</text>
<text x="599.92" y="268.90" font-size="5.80" fill="#3a3a3a" >M4</text>
<rect x="609.50" y="249.91" width="8.60" height="10.49" fill="#e6c21e" stroke="#3a3a3a" stroke-width="0.6"/>
<text x="610.47" y="248.31" font-size="6.00" fill="#383838" >33</text>
<text x="609.65" y="268.90" font-size="5.80" fill="#3a3a3a" >M5</text>
<rect x="561.00" y="292.36" width="8.60" height="18.44" fill="#800080" stroke="#3a3a3a" stroke-width="0.6"/>
<text x="561.97" y="290.76" font-size="6.00" fill="#383838" >58</text>
<text x="561.14" y="319.30" font-size="5.80" fill="#3a3a3a" >M0</text>
<rect x="570.40" y="309.90" width="9.20" height="0.9" fill="#9a9a9a"/>
<text x="570.87" y="319.30" font-size="5.80" fill="#3a3a3a" >M1</text>
<rect x="580.40" y="309.80" width="8.60" height="1.00" fill="#800080" stroke="#3a3a3a" stroke-width="0.6"/>
<text x="583.04" y="308.20" font-size="6.00" fill="#383838" >2</text>
<text x="580.58" y="319.30" font-size="5.80" fill="#3a3a3a" >M2</text>
<rect x="590.10" y="309.80" width="8.60" height="1.00" fill="#800080" stroke="#3a3a3a" stroke-width="0.6"/>
<text x="592.65" y="308.20" font-size="6.00" fill="#383838" >1</text>
<text x="590.25" y="319.30" font-size="5.80" fill="#3a3a3a" >M3</text>
<rect x="599.80" y="309.80" width="8.60" height="1.00" fill="#800080" stroke="#3a3a3a" stroke-width="0.6"/>
<text x="602.44" y="308.20" font-size="6.00" fill="#383838" >2</text>
<text x="599.92" y="319.30" font-size="5.80" fill="#3a3a3a" >M4</text>
<rect x="609.50" y="299.03" width="8.60" height="11.77" fill="#800080" stroke="#3a3a3a" stroke-width="0.6"/>
<text x="610.50" y="297.43" font-size="6.00" fill="#383838" >37</text>
<text x="609.65" y="319.30" font-size="5.80" fill="#3a3a3a" >M5</text>
<rect x="619.20" y="309.80" width="8.60" height="1.00" fill="#800080" stroke="#3a3a3a" stroke-width="0.6"/>
<text x="621.75" y="308.20" font-size="6.00" fill="#383838" >1</text>
<text x="619.35" y="319.30" font-size="5.80" fill="#3a3a3a" >M6</text>
<rect x="641.70" y="60.67" width="8.60" height="20.03" fill="#d01c1c" stroke="#3a3a3a" stroke-width="0.6"/>
<text x="642.64" y="59.07" font-size="6.00" fill="#383838" >63</text>
<text x="641.84" y="89.20" font-size="5.80" fill="#3a3a3a" >M0</text>
<rect x="651.40" y="79.70" width="8.60" height="1.00" fill="#d01c1c" stroke="#3a3a3a" stroke-width="0.6"/>
<text x="654.04" y="78.10" font-size="6.00" fill="#383838" >3</text>
<text x="651.57" y="89.20" font-size="5.80" fill="#3a3a3a" >M1</text>
<rect x="661.10" y="78.79" width="8.60" height="1.91" fill="#d01c1c" stroke="#3a3a3a" stroke-width="0.6"/>
<text x="663.70" y="77.19" font-size="6.00" fill="#383838" >6</text>
<text x="661.28" y="89.20" font-size="5.80" fill="#3a3a3a" >M2</text>
<rect x="670.80" y="78.16" width="8.60" height="2.54" fill="#d01c1c" stroke="#3a3a3a" stroke-width="0.6"/>
<text x="673.42" y="76.56" font-size="6.00" fill="#383838" >8</text>
<text x="670.95" y="89.20" font-size="5.80" fill="#3a3a3a" >M3</text>
<rect x="680.50" y="74.98" width="8.60" height="5.72" fill="#d01c1c" stroke="#3a3a3a" stroke-width="0.6"/>
<text x="681.37" y="73.38" font-size="6.00" fill="#383838" >18</text>
<text x="680.62" y="89.20" font-size="5.80" fill="#3a3a3a" >M4</text>
<rect x="641.70" y="117.81" width="8.60" height="20.99" fill="#2a8a2a" stroke="#3a3a3a" stroke-width="0.6"/>
<text x="642.64" y="116.21" font-size="6.00" fill="#383838" >66</text>
<text x="641.84" y="147.30" font-size="5.80" fill="#3a3a3a" >M0</text>
<rect x="651.40" y="137.80" width="8.60" height="1.00" fill="#2a8a2a" stroke="#3a3a3a" stroke-width="0.6"/>
<text x="653.95" y="136.20" font-size="6.00" fill="#383838" >1</text>
<text x="651.57" y="147.30" font-size="5.80" fill="#3a3a3a" >M1</text>
<rect x="661.10" y="136.57" width="8.60" height="2.23" fill="#2a8a2a" stroke="#3a3a3a" stroke-width="0.6"/>
<text x="663.74" y="134.97" font-size="6.00" fill="#383838" >7</text>
<text x="661.28" y="147.30" font-size="5.80" fill="#3a3a3a" >M2</text>
<rect x="670.80" y="136.57" width="8.60" height="2.23" fill="#2a8a2a" stroke="#3a3a3a" stroke-width="0.6"/>
<text x="673.44" y="134.97" font-size="6.00" fill="#383838" >7</text>
<text x="670.95" y="147.30" font-size="5.80" fill="#3a3a3a" >M3</text>
<rect x="680.50" y="133.71" width="8.60" height="5.09" fill="#2a8a2a" stroke="#3a3a3a" stroke-width="0.6"/>
<text x="681.37" y="132.11" font-size="6.00" fill="#383838" >16</text>
<text x="680.62" y="147.30" font-size="5.80" fill="#3a3a3a" >M4</text>
<rect x="641.70" y="179.37" width="8.60" height="20.03" fill="#1f50d2" stroke="#3a3a3a" stroke-width="0.6"/>
<text x="642.64" y="177.77" font-size="6.00" fill="#383838" >63</text>
<text x="641.84" y="207.90" font-size="5.80" fill="#3a3a3a" >M0</text>
<rect x="651.40" y="198.40" width="8.60" height="1.00" fill="#1f50d2" stroke="#3a3a3a" stroke-width="0.6"/>
<text x="653.95" y="196.80" font-size="6.00" fill="#383838" >1</text>
<text x="651.57" y="207.90" font-size="5.80" fill="#3a3a3a" >M1</text>
<rect x="661.10" y="197.49" width="8.60" height="1.91" fill="#1f50d2" stroke="#3a3a3a" stroke-width="0.6"/>
<text x="663.70" y="195.89" font-size="6.00" fill="#383838" >6</text>
<text x="661.28" y="207.90" font-size="5.80" fill="#3a3a3a" >M2</text>
<rect x="670.80" y="196.22" width="8.60" height="3.18" fill="#1f50d2" stroke="#3a3a3a" stroke-width="0.6"/>
<text x="671.65" y="194.62" font-size="6.00" fill="#383838" >10</text>
<text x="670.95" y="207.90" font-size="5.80" fill="#3a3a3a" >M3</text>
<rect x="680.50" y="193.68" width="8.60" height="5.72" fill="#1f50d2" stroke="#3a3a3a" stroke-width="0.6"/>
<text x="681.37" y="192.08" font-size="6.00" fill="#383838" >18</text>
<text x="680.62" y="207.90" font-size="5.80" fill="#3a3a3a" >M4</text>
<rect x="641.70" y="238.46" width="8.60" height="21.94" fill="#e6c21e" stroke="#3a3a3a" stroke-width="0.6"/>
<text x="642.65" y="236.86" font-size="6.00" fill="#383838" >69</text>
<text x="641.84" y="268.90" font-size="5.80" fill="#3a3a3a" >M0</text>
<rect x="651.10" y="259.50" width="9.20" height="0.9" fill="#9a9a9a"/>
<text x="651.57" y="268.90" font-size="5.80" fill="#3a3a3a" >M1</text>
<rect x="661.10" y="259.40" width="8.60" height="1.00" fill="#e6c21e" stroke="#3a3a3a" stroke-width="0.6"/>
<text x="663.74" y="257.80" font-size="6.00" fill="#383838" >2</text>
<text x="661.28" y="268.90" font-size="5.80" fill="#3a3a3a" >M2</text>
<rect x="670.80" y="255.63" width="8.60" height="4.77" fill="#e6c21e" stroke="#3a3a3a" stroke-width="0.6"/>
<text x="671.67" y="254.03" font-size="6.00" fill="#383838" >15</text>
<text x="670.95" y="268.90" font-size="5.80" fill="#3a3a3a" >M3</text>
<rect x="680.50" y="256.58" width="8.60" height="3.82" fill="#e6c21e" stroke="#3a3a3a" stroke-width="0.6"/>
<text x="681.39" y="254.98" font-size="6.00" fill="#383838" >12</text>
<text x="680.62" y="268.90" font-size="5.80" fill="#3a3a3a" >M4</text>
<rect x="690.20" y="259.40" width="8.60" height="1.00" fill="#e6c21e" stroke="#3a3a3a" stroke-width="0.6"/>
<text x="692.75" y="257.80" font-size="6.00" fill="#383838" >1</text>
<text x="690.35" y="268.90" font-size="5.80" fill="#3a3a3a" >M5</text>
<rect x="641.70" y="289.81" width="8.60" height="20.99" fill="#800080" stroke="#3a3a3a" stroke-width="0.6"/>
<text x="642.64" y="288.21" font-size="6.00" fill="#383838" >66</text>
<text x="641.84" y="319.30" font-size="5.80" fill="#3a3a3a" >M0</text>
<rect x="651.10" y="309.90" width="9.20" height="0.9" fill="#9a9a9a"/>
<text x="651.57" y="319.30" font-size="5.80" fill="#3a3a3a" >M1</text>
<rect x="661.10" y="309.80" width="8.60" height="1.00" fill="#800080" stroke="#3a3a3a" stroke-width="0.6"/>
<text x="663.74" y="308.20" font-size="6.00" fill="#383838" >2</text>
<text x="661.28" y="319.30" font-size="5.80" fill="#3a3a3a" >M2</text>
<rect x="670.80" y="302.53" width="8.60" height="8.27" fill="#800080" stroke="#3a3a3a" stroke-width="0.6"/>
<text x="671.74" y="300.93" font-size="6.00" fill="#383838" >26</text>
<text x="670.95" y="319.30" font-size="5.80" fill="#3a3a3a" >M3</text>
<rect x="680.50" y="309.53" width="8.60" height="1.27" fill="#800080" stroke="#3a3a3a" stroke-width="0.6"/>
<text x="683.16" y="307.93" font-size="6.00" fill="#383838" >4</text>
<text x="680.62" y="319.30" font-size="5.80" fill="#3a3a3a" >M4</text>
<text x="145.07" y="307.30" font-size="11.50" fill="#000" >n.d.</text>
<text x="196.07" y="307.30" font-size="11.50" fill="#000" >n.d.</text>
<text x="247.57" y="307.30" font-size="11.50" fill="#000" >n.d.</text>
<text x="313.57" y="307.30" font-size="11.50" fill="#000" >n.d.</text>
<text x="379.27" y="251.00" font-size="11.50" fill="#000" >n.d.</text>
<text x="447.87" y="307.30" font-size="11.50" fill="#000" >n.d.</text>
<line x1="154.70" y1="41.0" x2="154.70" y2="50" stroke="#000" stroke-width="1.3"/>
<path d="M151.40,48.4 L158.00,48.4 L154.70,57.6 Z" fill="#000"/>
<line x1="212.00" y1="41.0" x2="212.00" y2="50" stroke="#000" stroke-width="1.3"/>
<path d="M208.70,48.4 L215.30,48.4 L212.00,57.6 Z" fill="#000"/>
<line x1="257.70" y1="41.0" x2="257.70" y2="50" stroke="#000" stroke-width="1.3"/>
<path d="M254.40,48.4 L261.00,48.4 L257.70,57.6 Z" fill="#000"/>
<line x1="317.60" y1="41.0" x2="317.60" y2="50" stroke="#000" stroke-width="1.3"/>
<path d="M314.30,48.4 L320.90,48.4 L317.60,57.6 Z" fill="#000"/>
<line x1="368.50" y1="41.0" x2="368.50" y2="50" stroke="#000" stroke-width="1.3"/>
<path d="M365.20,48.4 L371.80,48.4 L368.50,57.6 Z" fill="#000"/>
<line x1="377.30" y1="41.0" x2="377.30" y2="50" stroke="#000" stroke-width="1.3"/>
<path d="M374.00,48.4 L380.60,48.4 L377.30,57.6 Z" fill="#000"/>
<line x1="452.30" y1="41.0" x2="452.30" y2="50" stroke="#000" stroke-width="1.3"/>
<path d="M449.00,48.4 L455.60,48.4 L452.30,57.6 Z" fill="#000"/>
<line x1="471.90" y1="41.0" x2="471.90" y2="50" stroke="#000" stroke-width="1.3"/>
<path d="M468.60,48.4 L475.20,48.4 L471.90,57.6 Z" fill="#000"/>
<line x1="479.60" y1="41.0" x2="479.60" y2="50" stroke="#000" stroke-width="1.3"/>
<path d="M476.30,48.4 L482.90,48.4 L479.60,57.6 Z" fill="#000"/>
<line x1="533.80" y1="41.0" x2="533.80" y2="50" stroke="#000" stroke-width="1.3"/>
<path d="M530.50,48.4 L537.10,48.4 L533.80,57.6 Z" fill="#000"/>
<line x1="542.60" y1="41.0" x2="542.60" y2="50" stroke="#000" stroke-width="1.3"/>
<path d="M539.30,48.4 L545.90,48.4 L542.60,57.6 Z" fill="#000"/>
<line x1="595.30" y1="41.0" x2="595.30" y2="50" stroke="#000" stroke-width="1.3"/>
<path d="M592.00,48.4 L598.60,48.4 L595.30,57.6 Z" fill="#000"/>
<line x1="613.30" y1="41.0" x2="613.30" y2="50" stroke="#000" stroke-width="1.3"/>
<path d="M610.00,48.4 L616.60,48.4 L613.30,57.6 Z" fill="#000"/>
<line x1="675.10" y1="41.0" x2="675.10" y2="50" stroke="#000" stroke-width="1.3"/>
<path d="M671.80,48.4 L678.40,48.4 L675.10,57.6 Z" fill="#000"/>
<line x1="684.60" y1="41.0" x2="684.60" y2="50" stroke="#000" stroke-width="1.3"/>
<path d="M681.30,48.4 L687.90,48.4 L684.60,57.6 Z" fill="#000"/>
<text x="5.96" y="353.20" font-size="20.50" fill="#000" >B</text>
<text x="108.0" y="353.6" font-size="14.5">[1,2-<tspan dy="-5.8" font-size="9.2">13</tspan><tspan dy="5.8">C]glucose</tspan></text>
<text x="366.8" y="353.6" font-size="14.5">[U-<tspan dy="-5.8" font-size="9.2">13</tspan><tspan dy="5.8">C]glutamine</tspan></text>
<text x="555.42" y="354.60" font-size="19.50" fill="#000" >C</text>
<text transform="translate(13.9,497.7) rotate(-90)" font-size="19.5" fill="#d81e1e">High O<tspan dx="0.6" dy="4" font-size="12.5">2</tspan></text>
<text transform="translate(13.9,707.5) rotate(-90)" font-size="19.5" fill="#800080">Low O<tspan dx="0.6" dy="4" font-size="12.5">2</tspan></text>
<rect x="22.6" y="361.2" width="257.7" height="203.6" rx="11" ry="11" fill="#f7f7f7" stroke="#c8c8c8" stroke-width="1"/>
<rect x="288.4" y="361.2" width="257.7" height="203.6" rx="11" ry="11" fill="#f7f7f7" stroke="#c8c8c8" stroke-width="1"/>
<rect x="22.6" y="573" width="257.7" height="204.5" rx="11" ry="11" fill="#f7f7f7" stroke="#c8c8c8" stroke-width="1"/>
<rect x="288.4" y="573" width="257.7" height="204.5" rx="11" ry="11" fill="#f7f7f7" stroke="#c8c8c8" stroke-width="1"/>
<text x="41.48" y="377.50" font-size="10.40" fill="#000" >Glc</text>
<ellipse cx="76.8" cy="374" rx="18.8" ry="4.1" fill="#ef7575"/>
<circle cx="63.65" cy="373.90" r="2.60" fill="#000"/>
<circle cx="69.00" cy="373.90" r="2.60" fill="#000"/>
<circle cx="74.35" cy="373.90" r="2.35" fill="#fff" stroke="#000" stroke-width="0.8"/>
<circle cx="79.70" cy="373.90" r="2.35" fill="#fff" stroke="#000" stroke-width="0.8"/>
<circle cx="85.05" cy="373.90" r="2.35" fill="#fff" stroke="#000" stroke-width="0.8"/>
<circle cx="90.40" cy="373.90" r="2.35" fill="#fff" stroke="#000" stroke-width="0.8"/>
<line x1="105.30" y1="369.10" x2="114.50" y2="368.92" stroke="#000" stroke-width="1.35"/>
<path d="M120.50,368.80 L113.55,371.64 L113.45,366.24 Z" fill="#000"/>
<line x1="100.10" y1="374.10" x2="109.30" y2="373.92" stroke="#000" stroke-width="1.35"/>
<path d="M115.30,373.80 L108.35,376.64 L108.25,371.24 Z" fill="#000"/>
<line x1="94.20" y1="378.80" x2="103.90" y2="378.61" stroke="#000" stroke-width="1.35"/>
<path d="M109.90,378.50 L102.95,381.33 L102.85,375.93 Z" fill="#000"/>
<circle cx="127.75" cy="370.60" r="2.60" fill="#000"/>
<circle cx="133.10" cy="370.60" r="2.60" fill="#000"/>
<circle cx="138.45" cy="370.60" r="2.35" fill="#fff" stroke="#000" stroke-width="0.8"/>
<circle cx="127.75" cy="378.30" r="2.35" fill="#fff" stroke="#000" stroke-width="0.8"/>
<circle cx="133.10" cy="378.30" r="2.35" fill="#fff" stroke="#000" stroke-width="0.8"/>
<circle cx="138.45" cy="378.30" r="2.35" fill="#fff" stroke="#000" stroke-width="0.8"/>
<text x="145.97" y="377.70" font-size="10.40" fill="#000" >Pyr</text>
<line x1="133.30" y1="382.20" x2="133.30" y2="397.40" stroke="#000" stroke-width="1.2"/>
<path d="M133.30,402.90 L130.30,396.40 L136.30,396.40 Z" fill="#000"/>
<path d="M133.60,389.70 Q139.10,388.70 140.60,394.50" fill="none" stroke="#000" stroke-width="1.0"/>
<circle cx="147.10" cy="395.30" r="1.90" fill="#fff" stroke="#000" stroke-width="0.8"/>
<text x="152.30" y="398.60" font-size="10.3" fill="#000">CO<tspan dy="1.8" font-size="9.79">2</tspan></text>
<text x="108.37" y="392.90" font-size="10.40" fill="#1f66ea" >PDH</text>
<circle cx="129.95" cy="407.10" r="2.60" fill="#000"/>
<circle cx="135.30" cy="407.10" r="2.60" fill="#000"/>
<circle cx="129.95" cy="414.60" r="2.35" fill="#fff" stroke="#000" stroke-width="0.8"/>
<circle cx="135.30" cy="414.60" r="2.35" fill="#fff" stroke="#000" stroke-width="0.8"/>
<text x="143.00" y="414.20" font-size="10.40" fill="#000" >AcCoA</text>
<text x="110.38" y="432.60" font-size="10.40" fill="#1f66ea" >CS</text>
<path d="M130.4,419 L128.6,433.5 Q128.6,437 132,436.6" fill="none" stroke="#000" stroke-width="1.2"/>
<path d="M121.37,441.93 A57,57 0 0 1 138.18,434.70" fill="none" stroke="#000" stroke-width="1.2"/>
<path d="M143.57,433.63 L137.82,437.89 L136.60,432.01 Z" fill="#000"/>
<circle cx="148.75" cy="433.10" r="2.35" fill="#fff" stroke="#000" stroke-width="0.8"/>
<circle cx="154.10" cy="433.10" r="2.35" fill="#fff" stroke="#000" stroke-width="0.8"/>
<circle cx="159.45" cy="433.10" r="2.35" fill="#fff" stroke="#000" stroke-width="0.8"/>
<circle cx="164.80" cy="433.10" r="2.60" fill="#000"/>
<circle cx="170.15" cy="433.10" r="2.60" fill="#000"/>
<circle cx="159.50" cy="427.30" r="2.35" fill="#fff" stroke="#000" stroke-width="0.8"/>
<text x="150.88" y="446.20" font-size="10.40" fill="#000" >Cit</text>
<path d="M177.65,439.66 A56.5,56.5 0 0 1 208.46,487.95" fill="none" stroke="#000" stroke-width="1.2"/>
<path d="M208.39,493.45 L205.42,486.94 L211.42,486.96 Z" fill="#000"/>
<path d="M199.38,459.23 L193.12,455.76 L197.96,452.21 Z" fill="#000"/>
<text x="208.76" y="474.40" font-size="10.40" fill="#1f66ea" >IDH</text>
<path d="M205.50,480.00 Q211.00,479.00 212.50,484.80" fill="none" stroke="#000" stroke-width="1.0"/>
<circle cx="219.80" cy="483.10" r="1.90" fill="#fff" stroke="#000" stroke-width="0.8"/>
<text x="225.60" y="486.60" font-size="10.3" fill="#000">CO<tspan dy="2" font-size="7.00">2</tspan></text>
<circle cx="192.95" cy="500.00" r="2.35" fill="#fff" stroke="#000" stroke-width="0.8"/>
<circle cx="198.45" cy="500.00" r="2.35" fill="#fff" stroke="#000" stroke-width="0.8"/>
<circle cx="203.95" cy="500.00" r="2.35" fill="#fff" stroke="#000" stroke-width="0.8"/>
<circle cx="209.45" cy="500.00" r="2.60" fill="#000"/>
<circle cx="214.95" cy="500.00" r="2.60" fill="#000"/>
<text x="192.78" y="513.60" font-size="10.40" fill="#000" >2OG</text>
<path d="M219.80,505.30 L226.30,502.30 L226.30,508.30 Z" fill="#000"/>
<line x1="225.30" y1="505.30" x2="243.20" y2="505.30" stroke="#000" stroke-width="1.2"/>
<path d="M248.70,505.30 L242.20,508.30 L242.20,502.30 Z" fill="#000"/>
<text x="253.08" y="508.80" font-size="10.40" fill="#000" >Glu</text>
<line x1="261.90" y1="535.00" x2="261.90" y2="518.90" stroke="#000" stroke-width="1.2"/>
<path d="M261.90,513.40 L264.90,519.90 L258.90,519.90 Z" fill="#000"/>
<circle cx="250.55" cy="540.40" r="2.35" fill="#fff" stroke="#000" stroke-width="0.8"/>
<circle cx="255.90" cy="540.40" r="2.35" fill="#fff" stroke="#000" stroke-width="0.8"/>
<circle cx="261.25" cy="540.40" r="2.35" fill="#fff" stroke="#000" stroke-width="0.8"/>
<circle cx="266.60" cy="540.40" r="2.35" fill="#fff" stroke="#000" stroke-width="0.8"/>
<circle cx="271.95" cy="540.40" r="2.35" fill="#fff" stroke="#000" stroke-width="0.8"/>
<text x="253.08" y="555.20" font-size="10.40" fill="#000" >Gln</text>
<path d="M199.14,518.33 A55,55 0 0 1 175.88,539.55" fill="none" stroke="#000" stroke-width="1.2"/>
<path d="M170.81,541.68 L175.59,536.35 L177.97,541.86 Z" fill="#000"/>
<path d="M188.8,529.5 Q192,536 197,537.6" fill="none" stroke="#000" stroke-width="1"/>
<circle cx="203.60" cy="538.60" r="1.90" fill="#fff" stroke="#000" stroke-width="0.8"/>
<text x="209.90" y="543.00" font-size="10.3" fill="#000">CO<tspan dy="2" font-size="7.00">2</tspan></text>
<circle cx="147.75" cy="540.80" r="2.35" fill="#fff" stroke="#000" stroke-width="0.8"/>
<circle cx="153.10" cy="540.80" r="2.35" fill="#fff" stroke="#000" stroke-width="0.8"/>
<circle cx="158.45" cy="540.80" r="2.60" fill="#000"/>
<circle cx="163.80" cy="540.80" r="2.60" fill="#000"/>
<circle cx="147.75" cy="548.20" r="2.60" fill="#000"/>
<circle cx="153.10" cy="548.20" r="2.60" fill="#000"/>
<circle cx="158.45" cy="548.20" r="2.35" fill="#fff" stroke="#000" stroke-width="0.8"/>
<circle cx="163.80" cy="548.20" r="2.35" fill="#fff" stroke="#000" stroke-width="0.8"/>
<text x="146.33" y="563.00" font-size="10.40" fill="#000" >Suc</text>
<path d="M139.74,543.10 A54.5,54.5 0 0 1 110.73,525.60" fill="none" stroke="#000" stroke-width="1.2"/>
<path d="M107.36,521.26 L113.75,524.49 L109.04,528.22 Z" fill="#000"/>
<path d="M119.97,534.09 L127.06,535.06 L123.83,540.12 Z" fill="#000"/>
<circle cx="94.75" cy="510.60" r="2.35" fill="#fff" stroke="#000" stroke-width="0.8"/>
<circle cx="100.10" cy="510.60" r="2.35" fill="#fff" stroke="#000" stroke-width="0.8"/>
<circle cx="105.45" cy="510.60" r="2.60" fill="#000"/>
<circle cx="110.80" cy="510.60" r="2.60" fill="#000"/>
<circle cx="94.75" cy="517.60" r="2.60" fill="#000"/>
<circle cx="100.10" cy="517.60" r="2.60" fill="#000"/>
<circle cx="105.45" cy="517.60" r="2.35" fill="#fff" stroke="#000" stroke-width="0.8"/>
<circle cx="110.80" cy="517.60" r="2.35" fill="#fff" stroke="#000" stroke-width="0.8"/>
<text x="71.37" y="518.00" font-size="10.40" fill="#000" >Mal</text>
<line x1="98.20" y1="505.50" x2="97.06" y2="491.78" stroke="#000" stroke-width="1.2"/>
<path d="M96.60,486.30 L100.13,492.53 L94.15,493.03 Z" fill="#000"/>
<circle cx="89.55" cy="475.00" r="2.35" fill="#fff" stroke="#000" stroke-width="0.8"/>
<circle cx="94.90" cy="475.00" r="2.35" fill="#fff" stroke="#000" stroke-width="0.8"/>
<circle cx="100.25" cy="475.00" r="2.60" fill="#000"/>
<circle cx="105.60" cy="475.00" r="2.60" fill="#000"/>
<circle cx="89.55" cy="482.20" r="2.60" fill="#000"/>
<circle cx="94.90" cy="482.20" r="2.60" fill="#000"/>
<circle cx="100.25" cy="482.20" r="2.35" fill="#fff" stroke="#000" stroke-width="0.8"/>
<circle cx="105.60" cy="482.20" r="2.35" fill="#fff" stroke="#000" stroke-width="0.8"/>
<line x1="87.7" y1="467.4" x2="118.6" y2="467.4" stroke="#000" stroke-width="1.1"/>
<circle cx="99.15" cy="448.60" r="2.35" fill="#fff" stroke="#000" stroke-width="0.8"/>
<circle cx="104.50" cy="448.60" r="2.35" fill="#fff" stroke="#000" stroke-width="0.8"/>
<circle cx="109.85" cy="448.60" r="2.35" fill="#fff" stroke="#000" stroke-width="0.8"/>
<circle cx="115.20" cy="448.60" r="2.35" fill="#fff" stroke="#000" stroke-width="0.8"/>
<text x="95.93" y="462.60" font-size="10.40" fill="#000" >OAA</text>
<line x1="81.00" y1="476.80" x2="59.20" y2="476.80" stroke="#000" stroke-width="1.2"/>
<path d="M53.70,476.80 L60.20,473.80 L60.20,479.80 Z" fill="#000"/>
<circle cx="30.75" cy="472.80" r="2.35" fill="#fff" stroke="#000" stroke-width="0.8"/>
<circle cx="36.10" cy="472.80" r="2.35" fill="#fff" stroke="#000" stroke-width="0.8"/>
<circle cx="41.45" cy="472.80" r="2.60" fill="#000"/>
<circle cx="46.80" cy="472.80" r="2.60" fill="#000"/>
<circle cx="30.75" cy="480.00" r="2.60" fill="#000"/>
<circle cx="36.10" cy="480.00" r="2.60" fill="#000"/>
<circle cx="41.45" cy="480.00" r="2.35" fill="#fff" stroke="#000" stroke-width="0.8"/>
<circle cx="46.80" cy="480.00" r="2.35" fill="#fff" stroke="#000" stroke-width="0.8"/>
<text x="30.50" y="494.00" font-size="10.40" fill="#000" >Asp</text>
<text x="304.48" y="376.20" font-size="10.40" fill="#000" >Glc</text>
<circle cx="326.45" cy="371.80" r="2.35" fill="#fff" stroke="#000" stroke-width="0.8"/>
<circle cx="331.80" cy="371.80" r="2.35" fill="#fff" stroke="#000" stroke-width="0.8"/>
<circle cx="337.15" cy="371.80" r="2.35" fill="#fff" stroke="#000" stroke-width="0.8"/>
<circle cx="342.50" cy="371.80" r="2.35" fill="#fff" stroke="#000" stroke-width="0.8"/>
<circle cx="347.85" cy="371.80" r="2.35" fill="#fff" stroke="#000" stroke-width="0.8"/>
<circle cx="353.20" cy="371.80" r="2.35" fill="#fff" stroke="#000" stroke-width="0.8"/>
<line x1="368.20" y1="368.30" x2="377.40" y2="368.12" stroke="#000" stroke-width="1.35"/>
<path d="M383.40,368.00 L376.45,370.84 L376.35,365.44 Z" fill="#000"/>
<line x1="363.00" y1="373.30" x2="372.20" y2="373.12" stroke="#000" stroke-width="1.35"/>
<path d="M378.20,373.00 L371.25,375.84 L371.15,370.44 Z" fill="#000"/>
<line x1="357.10" y1="378.00" x2="366.80" y2="377.81" stroke="#000" stroke-width="1.35"/>
<path d="M372.80,377.70 L365.85,380.53 L365.75,375.13 Z" fill="#000"/>
<circle cx="390.75" cy="373.00" r="2.35" fill="#fff" stroke="#000" stroke-width="0.8"/>
<circle cx="396.10" cy="373.00" r="2.35" fill="#fff" stroke="#000" stroke-width="0.8"/>
<circle cx="401.45" cy="373.00" r="2.35" fill="#fff" stroke="#000" stroke-width="0.8"/>
<text x="408.97" y="377.00" font-size="10.40" fill="#000" >Pyr</text>
<line x1="395.60" y1="381.50" x2="395.60" y2="397.00" stroke="#000" stroke-width="1.2"/>
<path d="M395.60,402.50 L392.60,396.00 L398.60,396.00 Z" fill="#000"/>
<path d="M395.90,389.30 Q401.40,388.30 402.90,394.10" fill="none" stroke="#000" stroke-width="1.0"/>
<circle cx="409.80" cy="395.20" r="1.90" fill="#fff" stroke="#000" stroke-width="0.8"/>
<text x="415.60" y="398.40" font-size="10.3" fill="#000">CO<tspan dy="1.8" font-size="9.79">2</tspan></text>
<text x="370.97" y="392.90" font-size="10.40" fill="#1f66ea" >PDH</text>
<circle cx="392.75" cy="411.60" r="2.35" fill="#fff" stroke="#000" stroke-width="0.8"/>
<circle cx="398.10" cy="411.60" r="2.35" fill="#fff" stroke="#000" stroke-width="0.8"/>
<text x="406.00" y="416.60" font-size="10.40" fill="#000" >AcCoA</text>
<text x="373.08" y="432.60" font-size="10.40" fill="#1f66ea" >CS</text>
<path d="M393.4,418.5 L391.4,433.5 Q391.4,437 395,436.6" fill="none" stroke="#000" stroke-width="1.2"/>
<path d="M373.68,451.47 A56.5,56.5 0 0 1 400.78,435.32" fill="none" stroke="#000" stroke-width="1.2"/>
<path d="M406.16,434.20 L400.45,438.51 L399.17,432.65 Z" fill="#000"/>
<circle cx="412.05" cy="433.00" r="2.60" fill="#000"/>
<circle cx="417.40" cy="433.00" r="2.60" fill="#000"/>
<circle cx="422.75" cy="433.00" r="2.60" fill="#000"/>
<circle cx="428.10" cy="433.00" r="2.35" fill="#fff" stroke="#000" stroke-width="0.8"/>
<circle cx="433.45" cy="433.00" r="2.35" fill="#fff" stroke="#000" stroke-width="0.8"/>
<circle cx="422.80" cy="427.30" r="2.60" fill="#000"/>
<text x="414.28" y="446.60" font-size="10.40" fill="#000" >Cit</text>
<path d="M439.55,439.67 A56,56 0 0 1 470.95,487.63" fill="none" stroke="#000" stroke-width="1.2"/>
<path d="M470.91,493.13 L467.90,486.63 L473.90,486.62 Z" fill="#000"/>
<path d="M461.70,459.09 L455.40,455.69 L460.20,452.09 Z" fill="#000"/>
<text x="471.46" y="472.20" font-size="10.40" fill="#1f66ea" >IDH</text>
<path d="M468.60,479.00 Q474.10,478.00 475.60,483.80" fill="none" stroke="#000" stroke-width="1.0"/>
<circle cx="483.00" cy="481.30" r="2.25" fill="#000"/>
<text x="490.00" y="485.20" font-size="10.3" fill="#000">CO<tspan dy="2" font-size="7.00">2</tspan></text>
<circle cx="456.75" cy="495.60" r="2.60" fill="#000"/>
<circle cx="462.10" cy="495.60" r="2.60" fill="#000"/>
<circle cx="467.45" cy="495.60" r="2.60" fill="#000"/>
<circle cx="472.80" cy="495.60" r="2.35" fill="#fff" stroke="#000" stroke-width="0.8"/>
<circle cx="478.15" cy="495.60" r="2.35" fill="#fff" stroke="#000" stroke-width="0.8"/>
<line x1="452" y1="501.5" x2="482.4" y2="501.5" stroke="#000" stroke-width="1.1"/>
<circle cx="456.75" cy="508.00" r="2.60" fill="#000"/>
<circle cx="462.10" cy="508.00" r="2.60" fill="#000"/>
<circle cx="467.45" cy="508.00" r="2.60" fill="#000"/>
<circle cx="472.80" cy="508.00" r="2.60" fill="#000"/>
<circle cx="478.15" cy="508.00" r="2.60" fill="#000"/>
<text x="456.48" y="522.20" font-size="10.40" fill="#000" >2OG</text>
<path d="M486.00,507.40 L492.50,504.40 L492.50,510.40 Z" fill="#000"/>
<line x1="491.50" y1="507.40" x2="509.50" y2="507.40" stroke="#000" stroke-width="1.2"/>
<path d="M515.00,507.40 L508.50,510.40 L508.50,504.40 Z" fill="#000"/>
<text x="519.48" y="512.00" font-size="10.40" fill="#000" >Glu</text>
<line x1="528.00" y1="537.40" x2="528.00" y2="520.50" stroke="#000" stroke-width="1.2"/>
<path d="M528.00,515.00 L531.00,521.50 L525.00,521.50 Z" fill="#000"/>
<ellipse cx="527.6" cy="542.4" rx="15.6" ry="4.1" fill="#ef7575"/>
<circle cx="516.35" cy="542.40" r="2.60" fill="#000"/>
<circle cx="521.70" cy="542.40" r="2.60" fill="#000"/>
<circle cx="527.05" cy="542.40" r="2.60" fill="#000"/>
<circle cx="532.40" cy="542.40" r="2.60" fill="#000"/>
<circle cx="537.75" cy="542.40" r="2.60" fill="#000"/>
<text x="519.48" y="557.40" font-size="10.40" fill="#000" >Gln</text>
<path d="M457.52,525.67 A55.5,55.5 0 0 1 439.92,539.59" fill="none" stroke="#000" stroke-width="1.2"/>
<path d="M434.89,541.81 L439.57,536.40 L442.05,541.87 Z" fill="#000"/>
<path d="M449.6,533.6 Q452,540 458.2,541" fill="none" stroke="#000" stroke-width="1"/>
<circle cx="463.30" cy="542.40" r="2.25" fill="#000"/>
<text x="468.60" y="546.60" font-size="10.3" fill="#000">CO<tspan dy="2" font-size="7.00">2</tspan></text>
<circle cx="410.55" cy="545.00" r="2.60" fill="#000"/>
<circle cx="415.90" cy="545.00" r="2.60" fill="#000"/>
<circle cx="421.25" cy="545.00" r="2.60" fill="#000"/>
<circle cx="426.60" cy="545.00" r="2.60" fill="#000"/>
<text x="409.33" y="558.60" font-size="10.40" fill="#000" >Suc</text>
<path d="M402.28,542.99 A54.5,54.5 0 0 1 371.35,522.63" fill="none" stroke="#000" stroke-width="1.2"/>
<path d="M368.28,518.07 L374.43,521.74 L369.48,525.13 Z" fill="#000"/>
<path d="M382.97,534.09 L390.06,535.06 L386.83,540.12 Z" fill="#000"/>
<circle cx="358.75" cy="512.40" r="2.60" fill="#000"/>
<circle cx="364.10" cy="512.40" r="2.60" fill="#000"/>
<circle cx="369.45" cy="512.40" r="2.60" fill="#000"/>
<circle cx="374.80" cy="512.40" r="2.60" fill="#000"/>
<text x="332.87" y="515.60" font-size="10.40" fill="#000" >Mal</text>
<path d="M361.74,507.30 A56,56 0 0 1 359.29,484.27" fill="none" stroke="#000" stroke-width="1.2"/>
<path d="M360.12,478.84 L362.17,485.70 L356.23,484.84 Z" fill="#000"/>
<circle cx="358.75" cy="459.80" r="2.60" fill="#000"/>
<circle cx="364.10" cy="459.80" r="2.60" fill="#000"/>
<circle cx="369.45" cy="459.80" r="2.60" fill="#000"/>
<circle cx="374.80" cy="459.80" r="2.60" fill="#000"/>
<text x="354.93" y="474.50" font-size="10.40" fill="#000" >OAA</text>
<line x1="350.70" y1="465.60" x2="327.90" y2="465.60" stroke="#000" stroke-width="1.2"/>
<path d="M322.40,465.60 L328.90,462.60 L328.90,468.60 Z" fill="#000"/>
<circle cx="297.75" cy="459.80" r="2.60" fill="#000"/>
<circle cx="303.10" cy="459.80" r="2.60" fill="#000"/>
<circle cx="308.45" cy="459.80" r="2.60" fill="#000"/>
<circle cx="313.80" cy="459.80" r="2.60" fill="#000"/>
<text x="297.00" y="474.60" font-size="10.40" fill="#000" >Asp</text>
<text x="36.98" y="590.00" font-size="10.40" fill="#000" >Glc</text>
<ellipse cx="72.7" cy="586" rx="18.4" ry="4.1" fill="#ef7575"/>
<circle cx="58.35" cy="586.00" r="2.60" fill="#000"/>
<circle cx="63.70" cy="586.00" r="2.60" fill="#000"/>
<circle cx="69.05" cy="586.00" r="2.35" fill="#fff" stroke="#000" stroke-width="0.8"/>
<circle cx="74.40" cy="586.00" r="2.35" fill="#fff" stroke="#000" stroke-width="0.8"/>
<circle cx="79.75" cy="586.00" r="2.35" fill="#fff" stroke="#000" stroke-width="0.8"/>
<circle cx="85.10" cy="586.00" r="2.35" fill="#fff" stroke="#000" stroke-width="0.8"/>
<line x1="101.80" y1="580.50" x2="111.00" y2="580.32" stroke="#000" stroke-width="1.35"/>
<path d="M117.00,580.20 L110.05,583.04 L109.95,577.64 Z" fill="#000"/>
<line x1="96.60" y1="585.50" x2="105.80" y2="585.32" stroke="#000" stroke-width="1.35"/>
<path d="M111.80,585.20 L104.85,588.04 L104.75,582.64 Z" fill="#000"/>
<line x1="90.70" y1="590.20" x2="100.40" y2="590.01" stroke="#000" stroke-width="1.35"/>
<path d="M106.40,589.90 L99.45,592.73 L99.35,587.33 Z" fill="#000"/>
<circle cx="123.35" cy="582.40" r="2.60" fill="#000"/>
<circle cx="128.70" cy="582.40" r="2.60" fill="#000"/>
<circle cx="134.05" cy="582.40" r="2.35" fill="#fff" stroke="#000" stroke-width="0.8"/>
<circle cx="123.35" cy="590.00" r="2.35" fill="#fff" stroke="#000" stroke-width="0.8"/>
<circle cx="128.70" cy="590.00" r="2.35" fill="#fff" stroke="#000" stroke-width="0.8"/>
<circle cx="134.05" cy="590.00" r="2.35" fill="#fff" stroke="#000" stroke-width="0.8"/>
<text x="141.47" y="590.00" font-size="10.40" fill="#000" >Pyr</text>
<line x1="161.00" y1="586.20" x2="171.50" y2="586.20" stroke="#000" stroke-width="1.2"/>
<path d="M177.00,586.20 L170.50,589.20 L170.50,583.20 Z" fill="#000"/>
<circle cx="183.05" cy="582.40" r="2.60" fill="#000"/>
<circle cx="188.40" cy="582.40" r="2.60" fill="#000"/>
<circle cx="193.75" cy="582.40" r="2.35" fill="#fff" stroke="#000" stroke-width="0.8"/>
<circle cx="183.05" cy="590.00" r="2.35" fill="#fff" stroke="#000" stroke-width="0.8"/>
<circle cx="188.40" cy="590.00" r="2.35" fill="#fff" stroke="#000" stroke-width="0.8"/>
<circle cx="193.75" cy="590.00" r="2.35" fill="#fff" stroke="#000" stroke-width="0.8"/>
<text x="201.57" y="590.00" font-size="10.40" fill="#000" >Lac</text>
<text x="103.57" y="604.60" font-size="10.40" fill="#8fb3ec" >PDH</text>
<line x1="128.60" y1="592.50" x2="128.60" y2="608.40" stroke="#8a8a8a" stroke-width="1.2"/>
<path d="M128.60,613.90 L125.60,607.40 L131.60,607.40 Z" fill="#8a8a8a"/>
<path d="M128.90,600.50 Q134.40,599.50 135.90,605.30" fill="none" stroke="#8a8a8a" stroke-width="1.0"/>
<circle cx="142.80" cy="605.70" r="1.90" fill="#fff" stroke="#8a8a8a" stroke-width="0.8"/>
<text x="148.40" y="610.40" font-size="10.3" fill="#8a8a8a">CO<tspan dy="1.8" font-size="9.79">2</tspan></text>
<circle cx="125.55" cy="621.20" r="2.35" fill="#fff" stroke="#000" stroke-width="0.8"/>
<circle cx="130.90" cy="621.20" r="2.35" fill="#fff" stroke="#000" stroke-width="0.8"/>
<text x="138.60" y="625.40" font-size="10.40" fill="#000" >AcCoA</text>
<text x="93.00" y="647.40" font-size="10.40" fill="#1f66ea" >ACLY</text>
<path d="M138.6,645.6 Q126,646 125,642" fill="none" stroke="#000" stroke-width="1.2"/>
<line x1="124.80" y1="643.00" x2="125.27" y2="634.99" stroke="#000" stroke-width="1.2"/>
<path d="M125.60,629.50 L128.21,636.17 L122.22,635.81 Z" fill="#000"/>
<circle cx="144.55" cy="645.00" r="2.35" fill="#fff" stroke="#000" stroke-width="0.8"/>
<circle cx="149.90" cy="645.00" r="2.35" fill="#fff" stroke="#000" stroke-width="0.8"/>
<circle cx="155.25" cy="645.00" r="2.35" fill="#fff" stroke="#000" stroke-width="0.8"/>
<circle cx="160.60" cy="645.00" r="2.35" fill="#fff" stroke="#000" stroke-width="0.8"/>
<circle cx="165.95" cy="645.00" r="2.35" fill="#fff" stroke="#000" stroke-width="0.8"/>
<circle cx="155.30" cy="638.40" r="2.35" fill="#fff" stroke="#000" stroke-width="0.8"/>
<text x="146.78" y="658.20" font-size="10.40" fill="#000" >Cit</text>
<path d="M138.64,646.14 A57,57 0 0 0 116.12,656.16" fill="none" stroke="#000" stroke-width="1.2"/>
<path d="M111.86,659.64 L115.05,653.23 L118.81,657.91 Z" fill="#000"/>
<circle cx="92.75" cy="667.00" r="2.35" fill="#fff" stroke="#000" stroke-width="0.8"/>
<circle cx="98.10" cy="667.00" r="2.35" fill="#fff" stroke="#000" stroke-width="0.8"/>
<circle cx="103.45" cy="667.00" r="2.35" fill="#fff" stroke="#000" stroke-width="0.8"/>
<circle cx="108.80" cy="667.00" r="2.35" fill="#fff" stroke="#000" stroke-width="0.8"/>
<text x="88.93" y="681.00" font-size="10.40" fill="#000" >OAA</text>
<line x1="82.00" y1="676.20" x2="59.20" y2="676.20" stroke="#000" stroke-width="1.2"/>
<path d="M53.70,676.20 L60.20,673.20 L60.20,679.20 Z" fill="#000"/>
<circle cx="30.75" cy="667.00" r="2.35" fill="#fff" stroke="#000" stroke-width="0.8"/>
<circle cx="36.10" cy="667.00" r="2.35" fill="#fff" stroke="#000" stroke-width="0.8"/>
<circle cx="41.45" cy="667.00" r="2.35" fill="#fff" stroke="#000" stroke-width="0.8"/>
<circle cx="46.80" cy="667.00" r="2.35" fill="#fff" stroke="#000" stroke-width="0.8"/>
<text x="30.50" y="681.00" font-size="10.40" fill="#000" >Asp</text>
<path d="M94.6,685 Q91.6,698 92.6,708" fill="none" stroke="#000" stroke-width="1.2"/>
<path d="M92.90,713.20 L89.45,706.93 L95.44,706.51 Z" fill="#000"/>
<circle cx="91.35" cy="719.80" r="2.35" fill="#fff" stroke="#000" stroke-width="0.8"/>
<circle cx="96.70" cy="719.80" r="2.35" fill="#fff" stroke="#000" stroke-width="0.8"/>
<circle cx="102.05" cy="719.80" r="2.35" fill="#fff" stroke="#000" stroke-width="0.8"/>
<circle cx="107.40" cy="719.80" r="2.35" fill="#fff" stroke="#000" stroke-width="0.8"/>
<text x="67.17" y="724.80" font-size="10.40" fill="#000" >Mal</text>
<path d="M202.97,703.85 A53,53 0 0 0 175.65,655.62" fill="none" stroke="#000" stroke-width="1.2"/>
<path d="M170.71,653.21 L177.86,653.43 L175.19,658.80 Z" fill="#000"/>
<path d="M192.33,670.10 L198.42,673.87 L193.41,677.18 Z" fill="#000"/>
<text x="203.96" y="686.40" font-size="10.40" fill="#1f66ea" >IDH</text>
<path d="M203.3,692 Q206,688.5 210,692.5" fill="none" stroke="#000" stroke-width="1"/>
<circle cx="215.40" cy="693.40" r="1.90" fill="#fff" stroke="#000" stroke-width="0.8"/>
<text x="221.80" y="697.40" font-size="10.3" fill="#000">CO<tspan dy="2" font-size="7.00">2</tspan></text>
<circle cx="188.75" cy="710.90" r="2.35" fill="#fff" stroke="#000" stroke-width="0.8"/>
<circle cx="194.10" cy="710.90" r="2.35" fill="#fff" stroke="#000" stroke-width="0.8"/>
<circle cx="199.45" cy="710.90" r="2.35" fill="#fff" stroke="#000" stroke-width="0.8"/>
<circle cx="204.80" cy="710.90" r="2.35" fill="#fff" stroke="#000" stroke-width="0.8"/>
<circle cx="210.15" cy="710.90" r="2.35" fill="#fff" stroke="#000" stroke-width="0.8"/>
<text x="188.08" y="725.60" font-size="10.40" fill="#000" >2OG</text>
<line x1="243.60" y1="716.90" x2="221.50" y2="716.90" stroke="#000" stroke-width="1.2"/>
<path d="M216.00,716.90 L222.50,713.90 L222.50,719.90 Z" fill="#000"/>
<text x="248.78" y="721.40" font-size="10.40" fill="#000" >Glu</text>
<line x1="256.80" y1="745.80" x2="256.80" y2="730.50" stroke="#000" stroke-width="1.2"/>
<path d="M256.80,725.00 L259.80,731.50 L253.80,731.50 Z" fill="#000"/>
<circle cx="245.75" cy="751.80" r="2.35" fill="#fff" stroke="#000" stroke-width="0.8"/>
<circle cx="251.10" cy="751.80" r="2.35" fill="#fff" stroke="#000" stroke-width="0.8"/>
<circle cx="256.45" cy="751.80" r="2.35" fill="#fff" stroke="#000" stroke-width="0.8"/>
<circle cx="261.80" cy="751.80" r="2.35" fill="#fff" stroke="#000" stroke-width="0.8"/>
<circle cx="267.15" cy="751.80" r="2.35" fill="#fff" stroke="#000" stroke-width="0.8"/>
<text x="249.28" y="766.30" font-size="10.40" fill="#000" >Gln</text>
<path d="M194.42,729.75 A57.1,57.1 0 0 1 100.75,732.30" fill="none" stroke="#8a8a8a" stroke-width="1.2"/>
<path d="M97.70,727.72 L103.84,731.42 L98.87,734.79 Z" fill="#8a8a8a"/>
<path d="M147.60,755.49 L153.86,752.03 L154.30,758.01 Z" fill="#8a8a8a"/>
<path d="M120.95,749.37 L128.11,749.21 L125.72,754.71 Z" fill="#8a8a8a"/>
<text x="304.48" y="590.00" font-size="10.40" fill="#000" >Glc</text>
<circle cx="326.45" cy="585.60" r="2.35" fill="#fff" stroke="#000" stroke-width="0.8"/>
<circle cx="331.80" cy="585.60" r="2.35" fill="#fff" stroke="#000" stroke-width="0.8"/>
<circle cx="337.15" cy="585.60" r="2.35" fill="#fff" stroke="#000" stroke-width="0.8"/>
<circle cx="342.50" cy="585.60" r="2.35" fill="#fff" stroke="#000" stroke-width="0.8"/>
<circle cx="347.85" cy="585.60" r="2.35" fill="#fff" stroke="#000" stroke-width="0.8"/>
<circle cx="353.20" cy="585.60" r="2.35" fill="#fff" stroke="#000" stroke-width="0.8"/>
<line x1="368.40" y1="580.50" x2="377.60" y2="580.32" stroke="#000" stroke-width="1.35"/>
<path d="M383.60,580.20 L376.65,583.04 L376.55,577.64 Z" fill="#000"/>
<line x1="363.20" y1="585.50" x2="372.40" y2="585.32" stroke="#000" stroke-width="1.35"/>
<path d="M378.40,585.20 L371.45,588.04 L371.35,582.64 Z" fill="#000"/>
<line x1="357.30" y1="590.20" x2="367.00" y2="590.01" stroke="#000" stroke-width="1.35"/>
<path d="M373.00,589.90 L366.05,592.73 L365.95,587.33 Z" fill="#000"/>
<circle cx="390.75" cy="585.60" r="2.35" fill="#fff" stroke="#000" stroke-width="0.8"/>
<circle cx="396.10" cy="585.60" r="2.35" fill="#fff" stroke="#000" stroke-width="0.8"/>
<circle cx="401.45" cy="585.60" r="2.35" fill="#fff" stroke="#000" stroke-width="0.8"/>
<text x="408.97" y="590.00" font-size="10.40" fill="#000" >Pyr</text>
<line x1="429.30" y1="586.20" x2="438.00" y2="586.20" stroke="#000" stroke-width="1.2"/>
<path d="M443.50,586.20 L437.00,589.20 L437.00,583.20 Z" fill="#000"/>
<circle cx="450.55" cy="582.20" r="2.35" fill="#fff" stroke="#000" stroke-width="0.8"/>
<circle cx="455.90" cy="582.20" r="2.35" fill="#fff" stroke="#000" stroke-width="0.8"/>
<circle cx="461.25" cy="582.20" r="2.35" fill="#fff" stroke="#000" stroke-width="0.8"/>
<circle cx="450.55" cy="589.80" r="2.35" fill="#fff" stroke="#000" stroke-width="0.8"/>
<circle cx="455.90" cy="589.80" r="2.35" fill="#fff" stroke="#000" stroke-width="0.8"/>
<circle cx="461.25" cy="589.80" r="2.35" fill="#fff" stroke="#000" stroke-width="0.8"/>
<text x="469.17" y="590.00" font-size="10.40" fill="#000" >Lac</text>
<text x="370.77" y="604.60" font-size="10.40" fill="#8fb3ec" >PDH</text>
<line x1="395.60" y1="593.70" x2="395.60" y2="608.40" stroke="#8a8a8a" stroke-width="1.2"/>
<path d="M395.60,613.90 L392.60,607.40 L398.60,607.40 Z" fill="#8a8a8a"/>
<path d="M395.90,600.50 Q401.40,599.50 402.90,605.30" fill="none" stroke="#8a8a8a" stroke-width="1.0"/>
<circle cx="409.80" cy="605.70" r="1.90" fill="#fff" stroke="#8a8a8a" stroke-width="0.8"/>
<text x="415.60" y="610.40" font-size="10.3" fill="#8a8a8a">CO<tspan dy="1.8" font-size="9.79">2</tspan></text>
<circle cx="392.75" cy="620.40" r="2.60" fill="#000"/>
<circle cx="398.10" cy="620.40" r="2.60" fill="#000"/>
<text x="406.00" y="625.40" font-size="10.40" fill="#000" >AcCoA</text>
<text x="360.60" y="647.40" font-size="10.40" fill="#1f66ea" >ACLY</text>
<path d="M404.8,645.6 Q393,646 392,642" fill="none" stroke="#000" stroke-width="1.2"/>
<line x1="391.80" y1="643.00" x2="392.45" y2="634.98" stroke="#000" stroke-width="1.2"/>
<path d="M392.90,629.50 L395.36,636.22 L389.38,635.73 Z" fill="#000"/>
<circle cx="412.05" cy="644.40" r="2.60" fill="#000"/>
<circle cx="417.40" cy="644.40" r="2.60" fill="#000"/>
<circle cx="422.75" cy="644.40" r="2.60" fill="#000"/>
<circle cx="428.10" cy="644.40" r="2.60" fill="#000"/>
<circle cx="433.45" cy="644.40" r="2.60" fill="#000"/>
<circle cx="422.80" cy="638.40" r="2.35" fill="#fff" stroke="#000" stroke-width="0.8"/>
<text x="414.28" y="658.20" font-size="10.40" fill="#000" >Cit</text>
<path d="M405.14,646.05 A56.5,56.5 0 0 0 382.71,654.31" fill="none" stroke="#000" stroke-width="1.2"/>
<path d="M378.22,657.48 L381.85,651.31 L385.27,656.24 Z" fill="#000"/>
<circle cx="360.15" cy="667.00" r="2.35" fill="#fff" stroke="#000" stroke-width="0.8"/>
<circle cx="365.50" cy="667.00" r="2.60" fill="#000"/>
<circle cx="370.85" cy="667.00" r="2.60" fill="#000"/>
<circle cx="376.20" cy="667.00" r="2.60" fill="#000"/>
<text x="356.93" y="681.00" font-size="10.40" fill="#000" >OAA</text>
<line x1="348.70" y1="676.20" x2="326.70" y2="676.20" stroke="#000" stroke-width="1.2"/>
<path d="M321.20,676.20 L327.70,673.20 L327.70,679.20 Z" fill="#000"/>
<circle cx="298.25" cy="667.00" r="2.35" fill="#fff" stroke="#000" stroke-width="0.8"/>
<circle cx="303.60" cy="667.00" r="2.60" fill="#000"/>
<circle cx="308.95" cy="667.00" r="2.60" fill="#000"/>
<circle cx="314.30" cy="667.00" r="2.60" fill="#000"/>
<text x="298.00" y="681.00" font-size="10.40" fill="#000" >Asp</text>
<path d="M361,686 Q358,700 359,711" fill="none" stroke="#000" stroke-width="1.2"/>
<path d="M359.40,717.00 L356.06,710.67 L362.06,710.35 Z" fill="#000"/>
<circle cx="357.15" cy="723.00" r="2.35" fill="#fff" stroke="#000" stroke-width="0.8"/>
<circle cx="362.50" cy="723.00" r="2.60" fill="#000"/>
<circle cx="367.85" cy="723.00" r="2.60" fill="#000"/>
<circle cx="373.20" cy="723.00" r="2.60" fill="#000"/>
<text x="332.87" y="727.30" font-size="10.40" fill="#000" >Mal</text>
<path d="M469.99,702.99 A57,57 0 0 0 442.81,653.41" fill="none" stroke="#000" stroke-width="1.2"/>
<path d="M437.99,650.77 L445.12,651.33 L442.19,656.56 Z" fill="#000"/>
<path d="M461.86,672.64 L467.54,677.00 L462.23,679.79 Z" fill="#000"/>
<text x="472.66" y="685.00" font-size="10.40" fill="#1f66ea" >IDH</text>
<path d="M470.6,691 Q473.5,687.5 477.5,691.5" fill="none" stroke="#000" stroke-width="1"/>
<circle cx="482.90" cy="694.60" r="1.90" fill="#fff" stroke="#000" stroke-width="0.8"/>
<text x="490.00" y="698.40" font-size="10.3" fill="#000">CO<tspan dy="2" font-size="7.00">2</tspan></text>
<circle cx="456.45" cy="710.90" r="2.60" fill="#000"/>
<circle cx="461.80" cy="710.90" r="2.60" fill="#000"/>
<circle cx="467.15" cy="710.90" r="2.60" fill="#000"/>
<circle cx="472.50" cy="710.90" r="2.60" fill="#000"/>
<circle cx="477.85" cy="710.90" r="2.60" fill="#000"/>
<text x="455.88" y="725.60" font-size="10.40" fill="#000" >2OG</text>
<line x1="511.00" y1="716.90" x2="489.10" y2="716.90" stroke="#000" stroke-width="1.2"/>
<path d="M483.60,716.90 L490.10,713.90 L490.10,719.90 Z" fill="#000"/>
<text x="516.78" y="721.40" font-size="10.40" fill="#000" >Glu</text>
<line x1="525.30" y1="745.80" x2="525.30" y2="730.50" stroke="#000" stroke-width="1.2"/>
<path d="M525.30,725.00 L528.30,731.50 L522.30,731.50 Z" fill="#000"/>
<ellipse cx="524.8" cy="751.8" rx="15.6" ry="4.1" fill="#ef7575"/>
<circle cx="514.55" cy="751.80" r="2.60" fill="#000"/>
<circle cx="519.90" cy="751.80" r="2.60" fill="#000"/>
<circle cx="525.25" cy="751.80" r="2.60" fill="#000"/>
<circle cx="530.60" cy="751.80" r="2.60" fill="#000"/>
<circle cx="535.95" cy="751.80" r="2.60" fill="#000"/>
<text x="516.78" y="766.30" font-size="10.40" fill="#000" >Gln</text>
<path d="M461.09,729.80 A57.4,57.4 0 0 1 368.95,733.89" fill="none" stroke="#8a8a8a" stroke-width="1.2"/>
<path d="M365.69,729.46 L371.99,732.87 L367.19,736.47 Z" fill="#8a8a8a"/>
<path d="M414.20,755.10 L420.48,751.66 L420.89,757.64 Z" fill="#8a8a8a"/>
<path d="M393.87,751.64 L400.96,750.64 L399.23,756.38 Z" fill="#8a8a8a"/>
<ellipse cx="622.2" cy="393.6" rx="15.9" ry="20" fill="#d9a6a6"/>
<line x1="613.00" y1="407.80" x2="626.80" y2="399.90" stroke="#222" stroke-width="1.0"/>
<line x1="628.00" y1="399.90" x2="628.00" y2="388.80" stroke="#222" stroke-width="0.9"/>
<line x1="625.60" y1="399.90" x2="625.60" y2="388.80" stroke="#222" stroke-width="0.9"/>
<text x="623.16" y="387.80" font-size="9.40" fill="#111" >O</text>
<line x1="626.80" y1="399.90" x2="636.30" y2="404.60" stroke="#222" stroke-width="1.0"/>
<text x="637.02" y="410.30" font-size="9.40" fill="#111" >N</text>
<text x="637.02" y="422.20" font-size="9.40" fill="#111" >H</text>
<line x1="644.40" y1="403.80" x2="653.50" y2="399.40" stroke="#222" stroke-width="1.0"/>
<line x1="653.10" y1="399.00" x2="653.90" y2="399.00" stroke="#333" stroke-width="0.6"/>
<line x1="652.83" y1="396.50" x2="654.17" y2="396.50" stroke="#333" stroke-width="0.6"/>
<line x1="652.57" y1="394.00" x2="654.43" y2="394.00" stroke="#333" stroke-width="0.6"/>
<line x1="652.30" y1="391.50" x2="654.70" y2="391.50" stroke="#333" stroke-width="0.6"/>
<line x1="652.03" y1="389.00" x2="654.97" y2="389.00" stroke="#333" stroke-width="0.6"/>
<line x1="651.77" y1="386.50" x2="655.23" y2="386.50" stroke="#333" stroke-width="0.6"/>
<line x1="651.50" y1="384.00" x2="655.50" y2="384.00" stroke="#333" stroke-width="0.6"/>
<line x1="654.00" y1="382.82" x2="643.10" y2="377.22" stroke="#222" stroke-width="0.9"/>
<line x1="653.00" y1="384.78" x2="642.10" y2="379.18" stroke="#222" stroke-width="0.9"/>
<text x="636.56" y="379.30" font-size="9.40" fill="#111" >O</text>
<line x1="653.50" y1="383.80" x2="664.60" y2="377.90" stroke="#222" stroke-width="1.0"/>
<text x="664.16" y="379.30" font-size="9.40" fill="#111" >O</text>
<line x1="667.80" y1="372.00" x2="667.80" y2="365.50" stroke="#222" stroke-width="1.0"/>
<text x="663.73" y="363.40" font-size="9.40" fill="#111" >Si</text>
<line x1="667.80" y1="356.00" x2="667.80" y2="344.20" stroke="#222" stroke-width="1.0"/>
<line x1="662.70" y1="355.40" x2="654.40" y2="351.80" stroke="#222" stroke-width="1.0"/>
<line x1="673.20" y1="354.90" x2="682.80" y2="351.20" stroke="#222" stroke-width="1.0"/>
<line x1="653.50" y1="399.40" x2="667.80" y2="407.60" stroke="#222" stroke-width="1.0"/>
<line x1="667.80" y1="407.60" x2="682.00" y2="399.40" stroke="#222" stroke-width="1.0"/>
<line x1="683.20" y1="399.40" x2="683.20" y2="389.00" stroke="#222" stroke-width="0.9"/>
<line x1="680.80" y1="399.40" x2="680.80" y2="389.00" stroke="#222" stroke-width="0.9"/>
<text x="677.96" y="387.70" font-size="9.40" fill="#111" >O</text>
<line x1="682.00" y1="399.40" x2="691.60" y2="405.00" stroke="#222" stroke-width="1.0"/>
<text x="691.36" y="411.00" font-size="9.40" fill="#111" >O</text>
<line x1="698.70" y1="404.40" x2="702.60" y2="402.20" stroke="#222" stroke-width="1.0"/>
<text x="703.93" y="402.70" font-size="9.40" fill="#111" >Si</text>
<line x1="709.60" y1="395.20" x2="709.60" y2="383.80" stroke="#222" stroke-width="1.0"/>
<line x1="713.80" y1="396.00" x2="723.80" y2="389.90" stroke="#222" stroke-width="1.0"/>
<line x1="713.80" y1="401.60" x2="721.30" y2="407.30" stroke="#222" stroke-width="1.0"/>
<path d="M649.5,405.4 L650.6,402.6 L630.5,371.5 L659.8,352.6" fill="none" stroke="#ee1c1c" stroke-width="1.1"/>
<path d="M676.6,348.6 L682.3,352.4 L679.8,358.2" fill="none" stroke="#ee1c1c" stroke-width="1.1"/>
<text x="678.27" y="369.60" font-size="8.20" fill="#ee1c1c" >304</text>
<text x="652.79" y="416.20" font-size="8.20" fill="#ee1c1c" >245</text>
<text x="609.0" y="443.7" font-size="9.6" fill="#111"><tspan font-style="italic">N</tspan>-Acetylaspartic acid 2TMS</text>
<text x="620.87" y="474.00" font-size="10.55" fill="#111" >Contribution to acetyl−CoA</text>
<text x="615.34" y="487.00" font-size="10.55" fill="#111" >from different carbon sources</text>
<rect x="586" y="494.6" width="190.5" height="139.2" fill="none" stroke="#111" stroke-width="1.3"/>
<line x1="581.30" y1="619.60" x2="586.00" y2="619.60" stroke="#111" stroke-width="1"/>
<text x="567.20" y="622.70" font-size="9.00" fill="#111" >0.0</text>
<line x1="581.30" y1="601.64" x2="586.00" y2="601.64" stroke="#111" stroke-width="1"/>
<text x="567.29" y="604.74" font-size="9.00" fill="#111" >0.1</text>
<line x1="581.30" y1="583.68" x2="586.00" y2="583.68" stroke="#111" stroke-width="1"/>
<text x="567.34" y="586.78" font-size="9.00" fill="#111" >0.2</text>
<line x1="581.30" y1="565.72" x2="586.00" y2="565.72" stroke="#111" stroke-width="1"/>
<text x="567.25" y="568.82" font-size="9.00" fill="#111" >0.3</text>
<line x1="581.30" y1="547.76" x2="586.00" y2="547.76" stroke="#111" stroke-width="1"/>
<text x="567.16" y="550.86" font-size="9.00" fill="#111" >0.4</text>
<line x1="581.30" y1="529.80" x2="586.00" y2="529.80" stroke="#111" stroke-width="1"/>
<text x="567.25" y="532.90" font-size="9.00" fill="#111" >0.5</text>
<line x1="581.30" y1="511.84" x2="586.00" y2="511.84" stroke="#111" stroke-width="1"/>
<text x="567.25" y="514.94" font-size="9.00" fill="#111" >0.6</text>
<line x1="627.80" y1="633.80" x2="627.80" y2="637.30" stroke="#111" stroke-width="1"/>
<text x="625.25" y="649.00" font-size="9.20" fill="#111" >5</text>
<line x1="672.06" y1="633.80" x2="672.06" y2="637.30" stroke="#111" stroke-width="1"/>
<text x="666.77" y="649.00" font-size="9.20" fill="#111" >10</text>
<line x1="716.33" y1="633.80" x2="716.33" y2="637.30" stroke="#111" stroke-width="1"/>
<text x="711.06" y="649.00" font-size="9.20" fill="#111" >15</text>
<line x1="760.59" y1="633.80" x2="760.59" y2="637.30" stroke="#111" stroke-width="1"/>
<text x="755.42" y="649.00" font-size="9.20" fill="#111" >20</text>
<text x="661.5" y="662.2" font-size="10.7" fill="#111">O<tspan dy="2" font-size="9.8">2</tspan><tspan dy="-2"> level (%)</tspan></text>
<text transform="translate(562.4,611) rotate(-90)" font-size="10.6" fill="#111">Relative contribution</text>
<line x1="641.00" y1="633.80" x2="776.00" y2="633.80" stroke="#2a2a78" stroke-width="1.2"/>
<svg x="586.6" y="495.2" width="189.4" height="138" viewBox="586.6 495.2 189.4 138" overflow="hidden">
<polyline points="592.39,538.78 627.80,513.64 672.06,522.62 716.33,529.80 769.45,522.62" fill="none" stroke="#bdbdbd" stroke-width="1.3"/>
<line x1="592.39" y1="559.43" x2="592.39" y2="528.00" stroke="#bdbdbd" stroke-width="1.3"/>
<line x1="588.79" y1="559.43" x2="595.99" y2="559.43" stroke="#bdbdbd" stroke-width="1.3"/>
<line x1="588.79" y1="528.00" x2="595.99" y2="528.00" stroke="#bdbdbd" stroke-width="1.3"/>
<circle cx="592.39" cy="538.78" r="1.3" fill="#bdbdbd"/>
<line x1="627.80" y1="528.00" x2="627.80" y2="499.27" stroke="#bdbdbd" stroke-width="1.3"/>
<line x1="624.20" y1="528.00" x2="631.40" y2="528.00" stroke="#bdbdbd" stroke-width="1.3"/>
<line x1="624.20" y1="499.27" x2="631.40" y2="499.27" stroke="#bdbdbd" stroke-width="1.3"/>
<circle cx="627.80" cy="513.64" r="1.3" fill="#bdbdbd"/>
<line x1="672.06" y1="528.90" x2="672.06" y2="515.97" stroke="#bdbdbd" stroke-width="1.3"/>
<line x1="668.46" y1="528.90" x2="675.66" y2="528.90" stroke="#bdbdbd" stroke-width="1.3"/>
<line x1="668.46" y1="515.97" x2="675.66" y2="515.97" stroke="#bdbdbd" stroke-width="1.3"/>
<circle cx="672.06" cy="522.62" r="1.3" fill="#bdbdbd"/>
<line x1="716.33" y1="552.61" x2="716.33" y2="504.66" stroke="#bdbdbd" stroke-width="1.3"/>
<line x1="712.73" y1="552.61" x2="719.93" y2="552.61" stroke="#bdbdbd" stroke-width="1.3"/>
<line x1="712.73" y1="504.66" x2="719.93" y2="504.66" stroke="#bdbdbd" stroke-width="1.3"/>
<circle cx="716.33" cy="529.80" r="1.3" fill="#bdbdbd"/>
<line x1="769.45" y1="540.58" x2="769.45" y2="504.66" stroke="#bdbdbd" stroke-width="1.3"/>
<line x1="765.85" y1="540.58" x2="773.05" y2="540.58" stroke="#bdbdbd" stroke-width="1.3"/>
<line x1="765.85" y1="504.66" x2="773.05" y2="504.66" stroke="#bdbdbd" stroke-width="1.3"/>
<circle cx="769.45" cy="522.62" r="1.3" fill="#bdbdbd"/>
<polyline points="592.39,624.99 627.80,581.88 672.06,557.64 716.33,545.96 769.45,544.17" fill="none" stroke="#ee1c1c" stroke-width="1.3"/>
<line x1="592.39" y1="632.17" x2="592.39" y2="618.88" stroke="#ee1c1c" stroke-width="1.6"/>
<line x1="588.79" y1="632.17" x2="595.99" y2="632.17" stroke="#ee1c1c" stroke-width="1.6"/>
<line x1="588.79" y1="618.88" x2="595.99" y2="618.88" stroke="#ee1c1c" stroke-width="1.6"/>
<circle cx="592.39" cy="624.99" r="1.3" fill="#ee1c1c"/>
<line x1="627.80" y1="590.86" x2="627.80" y2="572.90" stroke="#ee1c1c" stroke-width="1.6"/>
<line x1="624.20" y1="590.86" x2="631.40" y2="590.86" stroke="#ee1c1c" stroke-width="1.6"/>
<line x1="624.20" y1="572.90" x2="631.40" y2="572.90" stroke="#ee1c1c" stroke-width="1.6"/>
<circle cx="627.80" cy="581.88" r="1.3" fill="#ee1c1c"/>
<line x1="672.06" y1="559.43" x2="672.06" y2="555.48" stroke="#ee1c1c" stroke-width="1.6"/>
<line x1="668.46" y1="559.43" x2="675.66" y2="559.43" stroke="#ee1c1c" stroke-width="1.6"/>
<line x1="668.46" y1="555.48" x2="675.66" y2="555.48" stroke="#ee1c1c" stroke-width="1.6"/>
<circle cx="672.06" cy="557.64" r="1.3" fill="#ee1c1c"/>
<line x1="716.33" y1="559.43" x2="716.33" y2="532.13" stroke="#ee1c1c" stroke-width="1.6"/>
<line x1="712.73" y1="559.43" x2="719.93" y2="559.43" stroke="#ee1c1c" stroke-width="1.6"/>
<line x1="712.73" y1="532.13" x2="719.93" y2="532.13" stroke="#ee1c1c" stroke-width="1.6"/>
<circle cx="716.33" cy="545.96" r="1.3" fill="#ee1c1c"/>
<line x1="769.45" y1="549.56" x2="769.45" y2="538.24" stroke="#ee1c1c" stroke-width="1.6"/>
<line x1="765.85" y1="549.56" x2="773.05" y2="549.56" stroke="#ee1c1c" stroke-width="1.6"/>
<line x1="765.85" y1="538.24" x2="773.05" y2="538.24" stroke="#ee1c1c" stroke-width="1.6"/>
<circle cx="769.45" cy="544.17" r="1.3" fill="#ee1c1c"/>
<polyline points="592.39,536.98 627.80,551.35 672.06,584.58 716.33,602.54 769.45,598.95" fill="none" stroke="#1a1ad6" stroke-width="1.3"/>
<line x1="592.39" y1="546.86" x2="592.39" y2="527.64" stroke="#1a1ad6" stroke-width="1.6"/>
<line x1="588.79" y1="546.86" x2="595.99" y2="546.86" stroke="#1a1ad6" stroke-width="1.6"/>
<line x1="588.79" y1="527.64" x2="595.99" y2="527.64" stroke="#1a1ad6" stroke-width="1.6"/>
<circle cx="592.39" cy="536.98" r="1.3" fill="#1a1ad6"/>
<line x1="627.80" y1="556.20" x2="627.80" y2="547.22" stroke="#1a1ad6" stroke-width="1.6"/>
<line x1="624.20" y1="556.20" x2="631.40" y2="556.20" stroke="#1a1ad6" stroke-width="1.6"/>
<line x1="624.20" y1="547.22" x2="631.40" y2="547.22" stroke="#1a1ad6" stroke-width="1.6"/>
<circle cx="627.80" cy="551.35" r="1.3" fill="#1a1ad6"/>
<line x1="672.06" y1="589.43" x2="672.06" y2="580.09" stroke="#1a1ad6" stroke-width="1.6"/>
<line x1="668.46" y1="589.43" x2="675.66" y2="589.43" stroke="#1a1ad6" stroke-width="1.6"/>
<line x1="668.46" y1="580.09" x2="675.66" y2="580.09" stroke="#1a1ad6" stroke-width="1.6"/>
<circle cx="672.06" cy="584.58" r="1.3" fill="#1a1ad6"/>
<line x1="716.33" y1="612.78" x2="716.33" y2="592.84" stroke="#1a1ad6" stroke-width="1.6"/>
<line x1="712.73" y1="612.78" x2="719.93" y2="612.78" stroke="#1a1ad6" stroke-width="1.6"/>
<line x1="712.73" y1="592.84" x2="719.93" y2="592.84" stroke="#1a1ad6" stroke-width="1.6"/>
<circle cx="716.33" cy="602.54" r="1.3" fill="#1a1ad6"/>
<line x1="769.45" y1="609.72" x2="769.45" y2="586.91" stroke="#1a1ad6" stroke-width="1.6"/>
<line x1="765.85" y1="609.72" x2="773.05" y2="609.72" stroke="#1a1ad6" stroke-width="1.6"/>
<line x1="765.85" y1="586.91" x2="773.05" y2="586.91" stroke="#1a1ad6" stroke-width="1.6"/>
<circle cx="769.45" cy="598.95" r="1.3" fill="#1a1ad6"/>
</svg>
<text x="726.44" y="506.20" font-size="8.90" fill="#bdbdbd" >glutamine</text>
<text x="727.35" y="517.30" font-size="8.90" fill="#bdbdbd" >+ glucose</text>
<text x="733.64" y="555.20" font-size="8.90" fill="#ee1c1c" >glucose</text>
<text x="726.44" y="612.20" font-size="8.90" fill="#1a1ad6" >glutamine</text>
</svg></body></html>
